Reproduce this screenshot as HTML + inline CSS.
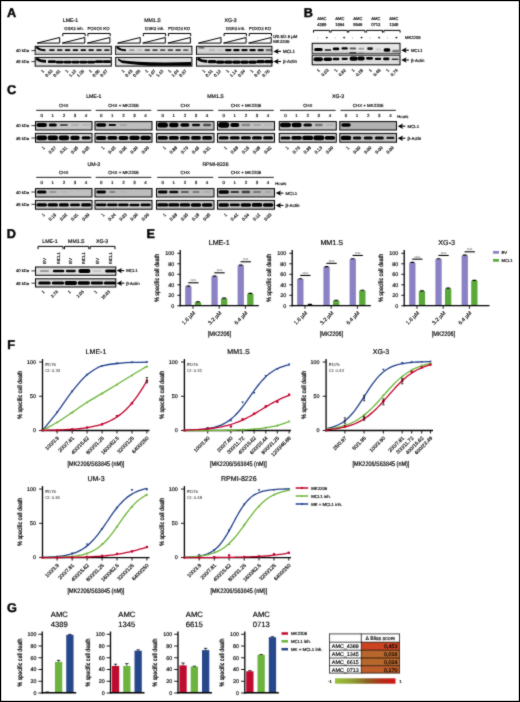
<!DOCTYPE html>
<html><head><meta charset="utf-8"><title>Figure</title>
<style>
html,body{margin:0;padding:0;background:#fff}
body{width:520px;height:702px;overflow:hidden}
svg{display:block;font-family:"Liberation Sans",sans-serif}
text{stroke:#000;stroke-width:.16px;text-rendering:geometricPrecision}
</style></head><body>
<svg width="520" height="702" viewBox="0 0 520 702">
<defs>
<filter id="bl" x="-20%" y="-60%" width="140%" height="220%"><feGaussianBlur stdDeviation="0.45"/></filter>
<linearGradient id="shade" x1="0" x2="0" y1="0" y2="1"><stop offset="0" stop-color="#dcdcdc"/><stop offset="1" stop-color="#9c9c9c"/></linearGradient>
<linearGradient id="shadeB" x1="0" x2="0" y1="0" y2="1"><stop offset="0" stop-color="#e6e6e6"/><stop offset="1" stop-color="#bcbcbc"/></linearGradient>
<linearGradient id="gr" x1="0" x2="1" y1="0" y2="0"><stop offset="0" stop-color="#9cc43c"/><stop offset="0.3" stop-color="#8e9a32"/><stop offset="0.55" stop-color="#8c5a20"/><stop offset="0.78" stop-color="#b42c18"/><stop offset="1" stop-color="#d61414"/></linearGradient>
<filter id="soft" x="0" y="0" width="520" height="702" filterUnits="userSpaceOnUse" color-interpolation-filters="sRGB"><feConvolveMatrix order="3" kernelMatrix="1 3 1 3 20 3 1 3 1" divisor="36" edgeMode="duplicate" preserveAlpha="false"/></filter>
</defs>
<rect x="0" y="0" width="520" height="702" fill="#fff"/>
<g filter="url(#soft)">
<text x="6.90" y="17.10" font-size="12.7" font-weight="bold" style="stroke-width:0.42px">A</text>
<text x="303.80" y="17.10" font-size="12.7" font-weight="bold" style="stroke-width:0.42px">B</text>
<text x="6.90" y="94.20" font-size="12.7" font-weight="bold" style="stroke-width:0.42px">C</text>
<text x="6.80" y="237.90" font-size="12.7" font-weight="bold" style="stroke-width:0.42px">D</text>
<text x="146.40" y="237.90" font-size="12.7" font-weight="bold" style="stroke-width:0.42px">E</text>
<text x="7.30" y="349.00" font-size="12.7" font-weight="bold" style="stroke-width:0.42px">F</text>
<text x="7.00" y="612.00" font-size="12.7" font-weight="bold" style="stroke-width:0.42px">G</text>
<rect x="35.20" y="46.30" width="76.10" height="8.20" fill="#dcdcdc" stroke="#000" stroke-width="1.0"/>
<rect x="35.70" y="51.6" width="75.10" height="2.9" fill="url(#shade)"/>
<rect x="35.20" y="57.40" width="76.10" height="8.70" fill="#dedede" stroke="#000" stroke-width="1.0"/>
<path d="M36.30,47.2 Q40.00,50.2 45.40,50.2" fill="none" stroke="#000" stroke-width="1.9" opacity="1" filter="url(#bl)"/>
<rect x="49.10" y="49.15" width="5.60" height="1.90" rx="0.95" fill="#000" opacity="0.95" filter="url(#bl)"/>
<rect x="56.95" y="49.15" width="5.60" height="1.90" rx="0.95" fill="#000" opacity="0.90" filter="url(#bl)"/>
<rect x="64.80" y="49.15" width="5.60" height="1.90" rx="0.95" fill="#000" opacity="1.00" filter="url(#bl)"/>
<rect x="72.65" y="49.15" width="5.60" height="1.90" rx="0.95" fill="#000" opacity="1.00" filter="url(#bl)"/>
<rect x="80.50" y="49.15" width="5.60" height="1.90" rx="0.95" fill="#000" opacity="1.00" filter="url(#bl)"/>
<rect x="88.35" y="49.15" width="5.60" height="1.90" rx="0.95" fill="#000" opacity="0.95" filter="url(#bl)"/>
<rect x="96.20" y="49.15" width="5.60" height="1.90" rx="0.95" fill="#000" opacity="0.90" filter="url(#bl)"/>
<rect x="104.05" y="49.15" width="5.60" height="1.90" rx="0.95" fill="#000" opacity="0.85" filter="url(#bl)"/>
<path d="M36.30,58.4 Q40.00,61.3 46.00,61.4" fill="none" stroke="#000" stroke-width="2.6" opacity="1" filter="url(#bl)"/>
<rect x="47.80" y="60.35" width="8.20" height="2.70" rx="1.35" fill="#000" opacity="1.00" filter="url(#bl)"/>
<rect x="55.65" y="60.75" width="8.20" height="2.70" rx="1.35" fill="#000" opacity="1.00" filter="url(#bl)"/>
<rect x="63.50" y="60.75" width="8.20" height="2.70" rx="1.35" fill="#000" opacity="1.00" filter="url(#bl)"/>
<rect x="71.35" y="60.75" width="8.20" height="2.70" rx="1.35" fill="#000" opacity="1.00" filter="url(#bl)"/>
<rect x="79.20" y="60.75" width="8.20" height="2.70" rx="1.35" fill="#000" opacity="1.00" filter="url(#bl)"/>
<rect x="87.05" y="60.75" width="8.20" height="2.70" rx="1.35" fill="#000" opacity="1.00" filter="url(#bl)"/>
<rect x="94.90" y="60.35" width="8.20" height="2.70" rx="1.35" fill="#000" opacity="1.00" filter="url(#bl)"/>
<rect x="102.75" y="60.35" width="8.20" height="2.70" rx="1.35" fill="#000" opacity="1.00" filter="url(#bl)"/>
<path d="M37.10,43.1 L59.70,37.5 V43.1 Z" fill="none" stroke="#000" stroke-width="1.0" stroke-linejoin="miter"/>
<path d="M62.20,43.1 L84.80,37.5 V43.1 Z" fill="none" stroke="#000" stroke-width="1.0" stroke-linejoin="miter"/>
<path d="M87.30,43.1 L109.90,37.5 V43.1 Z" fill="none" stroke="#000" stroke-width="1.0" stroke-linejoin="miter"/>
<path d="M62.80,36.20 V33.50 H85.10 V36.20" fill="none" stroke="#000" stroke-width="1.0"/>
<path d="M87.90,36.20 V33.50 H110.20 V36.20" fill="none" stroke="#000" stroke-width="1.0"/>
<text x="70.50" y="21.77" font-size="5.2" text-anchor="middle">LME-1</text>
<text x="74.00" y="29.55" font-size="4.3" text-anchor="middle">GSK3 inh.</text>
<text x="98.60" y="29.55" font-size="4.3" text-anchor="middle">FOXO1 KO</text>
<rect x="115.70" y="46.30" width="76.20" height="8.20" fill="#dcdcdc" stroke="#000" stroke-width="1.0"/>
<rect x="116.20" y="51.6" width="75.20" height="2.9" fill="url(#shade)"/>
<rect x="115.70" y="57.40" width="76.20" height="8.70" fill="#dedede" stroke="#000" stroke-width="1.0"/>
<path d="M116.80,47.2 Q120.50,50.2 125.90,50.2" fill="none" stroke="#000" stroke-width="1.9" opacity="1" filter="url(#bl)"/>
<rect x="129.10" y="49.15" width="5.60" height="1.90" rx="0.95" fill="#000" opacity="0.35" filter="url(#bl)"/>
<rect x="136.80" y="49.15" width="5.60" height="1.90" rx="0.95" fill="#000" opacity="0.15" filter="url(#bl)"/>
<rect x="144.50" y="49.15" width="5.60" height="1.90" rx="0.95" fill="#000" opacity="0.70" filter="url(#bl)"/>
<rect x="152.20" y="49.15" width="5.60" height="1.90" rx="0.95" fill="#000" opacity="0.70" filter="url(#bl)"/>
<rect x="159.90" y="49.15" width="5.60" height="1.90" rx="0.95" fill="#000" opacity="0.65" filter="url(#bl)"/>
<rect x="167.60" y="49.15" width="5.60" height="1.90" rx="0.95" fill="#000" opacity="0.70" filter="url(#bl)"/>
<rect x="175.30" y="49.15" width="5.60" height="1.90" rx="0.95" fill="#000" opacity="0.75" filter="url(#bl)"/>
<rect x="183.00" y="49.15" width="5.60" height="1.90" rx="0.95" fill="#000" opacity="0.60" filter="url(#bl)"/>
<polygon points="118.00,58.30 121.50,60.20 128.00,61.00 138.00,61.70 150.00,62.30 165.00,62.50 191.20,61.90 191.20,65.70 150.00,65.70 140.00,64.90 130.00,63.90 122.00,62.90 118.00,60.20" fill="#000" filter="url(#bl)"/>
<path d="M117.60,43.1 L140.20,37.5 V43.1 Z" fill="none" stroke="#000" stroke-width="1.0" stroke-linejoin="miter"/>
<path d="M142.70,43.1 L165.30,37.5 V43.1 Z" fill="none" stroke="#000" stroke-width="1.0" stroke-linejoin="miter"/>
<path d="M167.80,43.1 L190.40,37.5 V43.1 Z" fill="none" stroke="#000" stroke-width="1.0" stroke-linejoin="miter"/>
<path d="M143.30,36.20 V33.50 H165.60 V36.20" fill="none" stroke="#000" stroke-width="1.0"/>
<path d="M168.40,36.20 V33.50 H190.70 V36.20" fill="none" stroke="#000" stroke-width="1.0"/>
<text x="152.40" y="21.77" font-size="5.2" text-anchor="middle">MM1.S</text>
<text x="154.60" y="29.55" font-size="4.3" text-anchor="middle">GSK3 inh.</text>
<text x="179.20" y="29.55" font-size="4.3" text-anchor="middle">FOXO3 KO</text>
<rect x="196.50" y="46.30" width="75.40" height="8.20" fill="#d6d6d6" stroke="#000" stroke-width="1.0"/>
<rect x="197.00" y="51.6" width="74.40" height="2.9" fill="url(#shade)"/>
<rect x="196.50" y="57.40" width="75.40" height="8.70" fill="#dedede" stroke="#000" stroke-width="1.0"/>
<rect x="198.50" y="47.25" width="6.00" height="1.30" rx="0.65" fill="#000" opacity="0.60" filter="url(#bl)"/>
<rect x="208.90" y="48.90" width="6.40" height="2.40" rx="1.20" fill="#000" opacity="0.15" filter="url(#bl)"/>
<rect x="217.00" y="48.90" width="6.40" height="2.40" rx="1.20" fill="#000" opacity="0.08" filter="url(#bl)"/>
<rect x="225.10" y="48.90" width="6.40" height="2.40" rx="1.20" fill="#000" opacity="1.00" filter="url(#bl)"/>
<rect x="233.20" y="48.90" width="6.40" height="2.40" rx="1.20" fill="#000" opacity="1.00" filter="url(#bl)"/>
<rect x="241.30" y="48.90" width="6.40" height="2.40" rx="1.20" fill="#000" opacity="0.95" filter="url(#bl)"/>
<rect x="249.40" y="48.90" width="6.40" height="2.40" rx="1.20" fill="#000" opacity="1.00" filter="url(#bl)"/>
<rect x="257.50" y="48.90" width="6.40" height="2.40" rx="1.20" fill="#000" opacity="0.90" filter="url(#bl)"/>
<rect x="265.60" y="48.90" width="6.40" height="2.40" rx="1.20" fill="#000" opacity="0.50" filter="url(#bl)"/>
<path d="M197.60,58.4 Q201.30,61.3 207.30,61.4" fill="none" stroke="#000" stroke-width="2.6" opacity="1" filter="url(#bl)"/>
<rect x="207.80" y="60.05" width="8.60" height="3.30" rx="1.65" fill="#000" opacity="1.00" filter="url(#bl)"/>
<rect x="215.90" y="60.45" width="8.60" height="3.30" rx="1.65" fill="#000" opacity="1.00" filter="url(#bl)"/>
<rect x="224.00" y="60.45" width="8.60" height="3.30" rx="1.65" fill="#000" opacity="1.00" filter="url(#bl)"/>
<rect x="232.10" y="60.45" width="8.60" height="3.30" rx="1.65" fill="#000" opacity="1.00" filter="url(#bl)"/>
<rect x="240.20" y="60.45" width="8.60" height="3.30" rx="1.65" fill="#000" opacity="1.00" filter="url(#bl)"/>
<rect x="248.30" y="60.45" width="8.60" height="3.30" rx="1.65" fill="#000" opacity="1.00" filter="url(#bl)"/>
<rect x="256.40" y="60.05" width="8.60" height="3.30" rx="1.65" fill="#000" opacity="1.00" filter="url(#bl)"/>
<rect x="264.50" y="60.05" width="8.60" height="3.30" rx="1.65" fill="#000" opacity="1.00" filter="url(#bl)"/>
<path d="M198.40,43.1 L221.00,37.5 V43.1 Z" fill="none" stroke="#000" stroke-width="1.0" stroke-linejoin="miter"/>
<path d="M223.50,43.1 L246.10,37.5 V43.1 Z" fill="none" stroke="#000" stroke-width="1.0" stroke-linejoin="miter"/>
<path d="M248.60,43.1 L271.20,37.5 V43.1 Z" fill="none" stroke="#000" stroke-width="1.0" stroke-linejoin="miter"/>
<path d="M224.10,36.20 V33.50 H246.40 V36.20" fill="none" stroke="#000" stroke-width="1.0"/>
<path d="M249.20,36.20 V33.50 H271.50 V36.20" fill="none" stroke="#000" stroke-width="1.0"/>
<text x="230.60" y="21.77" font-size="5.2" text-anchor="middle">XG-3</text>
<text x="235.50" y="29.55" font-size="4.3" text-anchor="middle">GSK3 inh.</text>
<text x="260.00" y="29.55" font-size="4.3" text-anchor="middle">FOXO3 KO</text>
<text x="29.20" y="52.11" font-size="4.2" text-anchor="end">40 kDa</text>
<line x1="31.40" y1="50.60" x2="35.00" y2="50.60" stroke="#000" stroke-width="0.8"/>
<text x="29.20" y="63.11" font-size="4.2" text-anchor="end">45 kDa</text>
<line x1="31.40" y1="61.60" x2="35.00" y2="61.60" stroke="#000" stroke-width="0.8"/>
<text x="273.20" y="38.27" font-size="4.35">0/0.5/2.5 µM</text>
<text x="273.20" y="43.37" font-size="4.35">MK2206</text>
<line x1="276.70" y1="51.40" x2="281.00" y2="51.40" stroke="#000" stroke-width="1.1"/>
<polygon points="273.40,51.40 278.70,48.70 277.50,51.40 278.70,54.10" fill="#000"/>
<text x="283.00" y="53.02" font-size="4.5">MCL1</text>
<line x1="276.70" y1="61.50" x2="281.00" y2="61.50" stroke="#000" stroke-width="1.1"/>
<polygon points="273.40,61.50 278.70,58.80 277.50,61.50 278.70,64.20" fill="#000"/>
<text x="283.00" y="63.12" font-size="4.5">β-Actin</text>
<text x="44.40" y="71.40" font-size="4.2" text-anchor="end" transform="rotate(-45 44.40 71.40)">1</text>
<text x="52.90" y="71.40" font-size="4.2" text-anchor="end" transform="rotate(-45 52.90 71.40)">0.83</text>
<text x="60.75" y="71.40" font-size="4.2" text-anchor="end" transform="rotate(-45 60.75 71.40)">0.81</text>
<text x="68.60" y="71.40" font-size="4.2" text-anchor="end" transform="rotate(-45 68.60 71.40)">1</text>
<text x="76.45" y="71.40" font-size="4.2" text-anchor="end" transform="rotate(-45 76.45 71.40)">1.13</text>
<text x="84.30" y="71.40" font-size="4.2" text-anchor="end" transform="rotate(-45 84.30 71.40)">1.26</text>
<text x="92.15" y="71.40" font-size="4.2" text-anchor="end" transform="rotate(-45 92.15 71.40)">1</text>
<text x="100.00" y="71.40" font-size="4.2" text-anchor="end" transform="rotate(-45 100.00 71.40)">0.96</text>
<text x="107.85" y="71.40" font-size="4.2" text-anchor="end" transform="rotate(-45 107.85 71.40)">0.97</text>
<text x="124.90" y="71.40" font-size="4.2" text-anchor="end" transform="rotate(-45 124.90 71.40)">1</text>
<text x="132.90" y="71.40" font-size="4.2" text-anchor="end" transform="rotate(-45 132.90 71.40)">0.49</text>
<text x="140.60" y="71.40" font-size="4.2" text-anchor="end" transform="rotate(-45 140.60 71.40)">0.08</text>
<text x="148.30" y="71.40" font-size="4.2" text-anchor="end" transform="rotate(-45 148.30 71.40)">1</text>
<text x="156.00" y="71.40" font-size="4.2" text-anchor="end" transform="rotate(-45 156.00 71.40)">1.07</text>
<text x="163.70" y="71.40" font-size="4.2" text-anchor="end" transform="rotate(-45 163.70 71.40)">1.13</text>
<text x="171.40" y="71.40" font-size="4.2" text-anchor="end" transform="rotate(-45 171.40 71.40)">1</text>
<text x="179.10" y="71.40" font-size="4.2" text-anchor="end" transform="rotate(-45 179.10 71.40)">1.04</text>
<text x="186.80" y="71.40" font-size="4.2" text-anchor="end" transform="rotate(-45 186.80 71.40)">0.87</text>
<text x="205.70" y="71.40" font-size="4.2" text-anchor="end" transform="rotate(-45 205.70 71.40)">1</text>
<text x="213.10" y="71.40" font-size="4.2" text-anchor="end" transform="rotate(-45 213.10 71.40)">0.31</text>
<text x="221.20" y="71.40" font-size="4.2" text-anchor="end" transform="rotate(-45 221.20 71.40)">0.12</text>
<text x="229.30" y="71.40" font-size="4.2" text-anchor="end" transform="rotate(-45 229.30 71.40)">1</text>
<text x="237.40" y="71.40" font-size="4.2" text-anchor="end" transform="rotate(-45 237.40 71.40)">1.14</text>
<text x="245.50" y="71.40" font-size="4.2" text-anchor="end" transform="rotate(-45 245.50 71.40)">0.94</text>
<text x="253.60" y="71.40" font-size="4.2" text-anchor="end" transform="rotate(-45 253.60 71.40)">1</text>
<text x="261.70" y="71.40" font-size="4.2" text-anchor="end" transform="rotate(-45 261.70 71.40)">0.97</text>
<text x="269.80" y="71.40" font-size="4.2" text-anchor="end" transform="rotate(-45 269.80 71.40)">0.76</text>
<rect x="312.20" y="43.30" width="87.80" height="10.20" fill="#e6e6e6" stroke="#000" stroke-width="1.0"/>
<rect x="312.70" y="50.5" width="86.80" height="3" fill="url(#shadeB)"/>
<rect x="312.20" y="55.10" width="87.80" height="9.70" fill="#dcdcdc" stroke="#000" stroke-width="1.0"/>
<rect x="314.12" y="48.01" width="8.59" height="3.00" rx="1.50" fill="#000" opacity="1.00" filter="url(#bl)"/>
<rect x="324.54" y="49.05" width="6.76" height="2.00" rx="1.00" fill="#000" opacity="0.70" filter="url(#bl)"/>
<rect x="332.77" y="47.56" width="6.58" height="2.80" rx="1.40" fill="#000" opacity="1.00" filter="url(#bl)"/>
<rect x="341.54" y="47.21" width="6.22" height="2.40" rx="1.20" fill="#000" opacity="1.00" filter="url(#bl)"/>
<rect x="349.59" y="47.41" width="6.58" height="2.00" rx="1.00" fill="#000" opacity="0.60" filter="url(#bl)"/>
<rect x="358.36" y="47.78" width="5.85" height="2.00" rx="1.00" fill="#000" opacity="0.30" filter="url(#bl)"/>
<rect x="367.14" y="47.29" width="5.85" height="2.60" rx="1.30" fill="#000" opacity="0.85" filter="url(#bl)"/>
<rect x="375.18" y="48.51" width="6.03" height="2.00" rx="1.00" fill="#000" opacity="0.12" filter="url(#bl)"/>
<rect x="383.59" y="48.35" width="6.76" height="3.40" rx="1.70" fill="#000" opacity="1.00" filter="url(#bl)"/>
<rect x="392.18" y="49.67" width="7.31" height="2.60" rx="1.30" fill="#000" opacity="0.45" filter="url(#bl)"/>
<rect x="349.38" y="52.25" width="7.00" height="1.30" rx="0.65" fill="#000" opacity="0.85" filter="url(#bl)"/>
<rect x="358.79" y="52.40" width="5.00" height="1.00" rx="0.50" fill="#000" opacity="0.30" filter="url(#bl)"/>
<rect x="313.57" y="57.20" width="9.32" height="4.00" rx="2.00" fill="#000" opacity="1.00" filter="url(#bl)"/>
<rect x="323.63" y="57.40" width="8.41" height="3.60" rx="1.80" fill="#000" opacity="1.00" filter="url(#bl)"/>
<rect x="332.77" y="57.81" width="6.58" height="2.40" rx="1.20" fill="#000" opacity="1.00" filter="url(#bl)"/>
<rect x="341.54" y="57.73" width="6.22" height="2.20" rx="1.10" fill="#000" opacity="1.00" filter="url(#bl)"/>
<rect x="349.59" y="56.55" width="8.04" height="4.20" rx="2.10" fill="#000" opacity="1.00" filter="url(#bl)"/>
<rect x="357.26" y="56.46" width="7.50" height="4.00" rx="2.00" fill="#000" opacity="1.00" filter="url(#bl)"/>
<rect x="366.04" y="56.88" width="6.95" height="2.80" rx="1.40" fill="#000" opacity="1.00" filter="url(#bl)"/>
<rect x="374.81" y="57.63" width="6.40" height="2.40" rx="1.20" fill="#000" opacity="1.00" filter="url(#bl)"/>
<rect x="383.04" y="57.53" width="6.40" height="2.60" rx="1.30" fill="#000" opacity="1.00" filter="url(#bl)"/>
<rect x="391.63" y="58.40" width="6.95" height="1.60" rx="0.80" fill="#000" opacity="0.80" filter="url(#bl)"/>
<text x="321.80" y="20.31" font-size="4.2" text-anchor="middle">AMC</text>
<text x="321.80" y="25.51" font-size="4.2" text-anchor="middle">4389</text>
<path d="M313.50,32.60 V30.40 H329.70 V32.60" fill="none" stroke="#000" stroke-width="1.0"/>
<text x="317.80" y="39.17" font-size="3.8" text-anchor="middle" fill="#444" style="stroke-width:0.01px">-</text>
<text x="326.80" y="39.17" font-size="3.8" text-anchor="middle">+</text>
<text x="339.80" y="20.31" font-size="4.2" text-anchor="middle">AMC</text>
<text x="339.80" y="25.51" font-size="4.2" text-anchor="middle">1864</text>
<path d="M331.10,32.60 V30.40 H347.30 V32.60" fill="none" stroke="#000" stroke-width="1.0"/>
<text x="335.20" y="39.17" font-size="3.8" text-anchor="middle" fill="#444" style="stroke-width:0.01px">-</text>
<text x="344.20" y="39.17" font-size="3.8" text-anchor="middle">+</text>
<text x="357.80" y="20.31" font-size="4.2" text-anchor="middle">AMC</text>
<text x="357.80" y="25.51" font-size="4.2" text-anchor="middle">9946</text>
<path d="M348.70,32.60 V30.40 H364.90 V32.60" fill="none" stroke="#000" stroke-width="1.0"/>
<text x="352.60" y="39.17" font-size="3.8" text-anchor="middle" fill="#444" style="stroke-width:0.01px">-</text>
<text x="361.60" y="39.17" font-size="3.8" text-anchor="middle">+</text>
<text x="375.80" y="20.31" font-size="4.2" text-anchor="middle">AMC</text>
<text x="375.80" y="25.51" font-size="4.2" text-anchor="middle">0713</text>
<path d="M366.30,32.60 V30.40 H382.50 V32.60" fill="none" stroke="#000" stroke-width="1.0"/>
<text x="370.00" y="39.17" font-size="3.8" text-anchor="middle" fill="#444" style="stroke-width:0.01px">-</text>
<text x="379.00" y="39.17" font-size="3.8" text-anchor="middle">+</text>
<text x="393.80" y="20.31" font-size="4.2" text-anchor="middle">AMC</text>
<text x="393.80" y="25.51" font-size="4.2" text-anchor="middle">1345</text>
<path d="M383.90,32.60 V30.40 H400.10 V32.60" fill="none" stroke="#000" stroke-width="1.0"/>
<text x="387.40" y="39.17" font-size="3.8" text-anchor="middle" fill="#444" style="stroke-width:0.01px">-</text>
<text x="396.40" y="39.17" font-size="3.8" text-anchor="middle">+</text>
<text x="405.00" y="39.11" font-size="4.2">MK2206</text>
<line x1="404.60" y1="50.20" x2="408.90" y2="50.20" stroke="#000" stroke-width="1.1"/>
<polygon points="401.30,50.20 406.60,47.50 405.40,50.20 406.60,52.90" fill="#000"/>
<text x="411.00" y="51.75" font-size="4.3">MCL1</text>
<line x1="404.60" y1="60.00" x2="408.90" y2="60.00" stroke="#000" stroke-width="1.1"/>
<polygon points="401.30,60.00 406.60,57.30 405.40,60.00 406.60,62.70" fill="#000"/>
<text x="411.00" y="61.55" font-size="4.3">β-Actin</text>
<text x="320.30" y="70.60" font-size="4.3" text-anchor="end" transform="rotate(-45 320.30 70.60)">1</text>
<text x="328.95" y="70.60" font-size="4.3" text-anchor="end" transform="rotate(-45 328.95 70.60)">0.63</text>
<text x="337.60" y="70.60" font-size="4.3" text-anchor="end" transform="rotate(-45 337.60 70.60)">1</text>
<text x="346.25" y="70.60" font-size="4.3" text-anchor="end" transform="rotate(-45 346.25 70.60)">0.82</text>
<text x="354.90" y="70.60" font-size="4.3" text-anchor="end" transform="rotate(-45 354.90 70.60)">1</text>
<text x="363.55" y="70.60" font-size="4.3" text-anchor="end" transform="rotate(-45 363.55 70.60)">0.58</text>
<text x="372.20" y="70.60" font-size="4.3" text-anchor="end" transform="rotate(-45 372.20 70.60)">1</text>
<text x="380.85" y="70.60" font-size="4.3" text-anchor="end" transform="rotate(-45 380.85 70.60)">0.48</text>
<text x="389.50" y="70.60" font-size="4.3" text-anchor="end" transform="rotate(-45 389.50 70.60)">1</text>
<text x="398.15" y="70.60" font-size="4.3" text-anchor="end" transform="rotate(-45 398.15 70.60)">0.74</text>
<rect x="35.50" y="121.60" width="56.50" height="8.40" fill="#c6c6c6" stroke="#000" stroke-width="1.0"/>
<rect x="35.50" y="133.40" width="56.50" height="8.80" fill="#cecece" stroke="#000" stroke-width="1.0"/>
<rect x="36.45" y="122.90" width="10.50" height="4.20" rx="2.10" fill="#000" opacity="1.00" filter="url(#bl)"/>
<rect x="36.30" y="135.60" width="10.80" height="4.60" rx="2.30" fill="#000" opacity="1.00" filter="url(#bl)"/>
<rect x="48.80" y="123.50" width="8.00" height="3.00" rx="1.50" fill="#000" opacity="1.00" filter="url(#bl)"/>
<rect x="47.55" y="135.60" width="10.50" height="4.60" rx="2.30" fill="#000" opacity="1.00" filter="url(#bl)"/>
<rect x="59.90" y="123.90" width="8.00" height="2.20" rx="1.10" fill="#000" opacity="0.60" filter="url(#bl)"/>
<rect x="58.65" y="135.50" width="10.50" height="4.80" rx="2.40" fill="#000" opacity="1.00" filter="url(#bl)"/>
<rect x="71.00" y="124.00" width="8.00" height="2.00" rx="1.00" fill="#000" opacity="0.12" filter="url(#bl)"/>
<rect x="70.25" y="135.80" width="9.50" height="4.20" rx="2.10" fill="#000" opacity="1.00" filter="url(#bl)"/>
<rect x="82.10" y="124.00" width="8.00" height="2.00" rx="1.00" fill="#000" opacity="0.08" filter="url(#bl)"/>
<rect x="81.60" y="136.20" width="9.00" height="3.40" rx="1.70" fill="#000" opacity="1.00" filter="url(#bl)"/>
<line x1="36.20" y1="110.35" x2="91.30" y2="110.35" stroke="#000" stroke-width="0.9"/>
<text x="63.75" y="106.58" font-size="4.4" text-anchor="middle">CHX</text>
<text x="41.70" y="117.08" font-size="4.4" text-anchor="middle">0</text>
<text x="52.80" y="117.08" font-size="4.4" text-anchor="middle">1</text>
<text x="63.90" y="117.08" font-size="4.4" text-anchor="middle">2</text>
<text x="75.00" y="117.08" font-size="4.4" text-anchor="middle">3</text>
<text x="86.10" y="117.08" font-size="4.4" text-anchor="middle">4</text>
<text x="45.30" y="148.00" font-size="4.4" text-anchor="end" transform="rotate(-45 45.30 148.00)">1</text>
<text x="56.40" y="148.00" font-size="4.4" text-anchor="end" transform="rotate(-45 56.40 148.00)">0.57</text>
<text x="67.50" y="148.00" font-size="4.4" text-anchor="end" transform="rotate(-45 67.50 148.00)">0.31</text>
<text x="78.60" y="148.00" font-size="4.4" text-anchor="end" transform="rotate(-45 78.60 148.00)">0.05</text>
<text x="89.70" y="148.00" font-size="4.4" text-anchor="end" transform="rotate(-45 89.70 148.00)">0.05</text>
<rect x="95.00" y="121.60" width="57.00" height="8.40" fill="#bebebe" stroke="#000" stroke-width="1.0"/>
<rect x="95.00" y="133.40" width="57.00" height="8.80" fill="#c8c8c8" stroke="#000" stroke-width="1.0"/>
<rect x="96.20" y="123.20" width="10.00" height="3.60" rx="1.80" fill="#000" opacity="1.00" filter="url(#bl)"/>
<rect x="95.95" y="135.90" width="10.50" height="4.00" rx="2.00" fill="#000" opacity="1.00" filter="url(#bl)"/>
<rect x="108.55" y="123.90" width="7.50" height="2.20" rx="1.10" fill="#000" opacity="0.95" filter="url(#bl)"/>
<rect x="107.30" y="136.00" width="10.00" height="3.80" rx="1.90" fill="#000" opacity="1.00" filter="url(#bl)"/>
<rect x="119.90" y="124.10" width="7.00" height="1.80" rx="0.90" fill="#000" opacity="0.15" filter="url(#bl)"/>
<rect x="118.40" y="135.90" width="10.00" height="4.00" rx="2.00" fill="#000" opacity="1.00" filter="url(#bl)"/>
<rect x="129.25" y="135.80" width="10.50" height="4.20" rx="2.10" fill="#000" opacity="1.00" filter="url(#bl)"/>
<rect x="140.35" y="135.70" width="10.50" height="4.40" rx="2.20" fill="#000" opacity="1.00" filter="url(#bl)"/>
<line x1="95.70" y1="110.35" x2="151.30" y2="110.35" stroke="#000" stroke-width="0.9"/>
<text x="123.50" y="106.58" font-size="4.4" text-anchor="middle">CHX + MK2206</text>
<text x="101.20" y="117.08" font-size="4.4" text-anchor="middle">0</text>
<text x="112.30" y="117.08" font-size="4.4" text-anchor="middle">1</text>
<text x="123.40" y="117.08" font-size="4.4" text-anchor="middle">2</text>
<text x="134.50" y="117.08" font-size="4.4" text-anchor="middle">3</text>
<text x="145.60" y="117.08" font-size="4.4" text-anchor="middle">4</text>
<text x="104.80" y="148.00" font-size="4.4" text-anchor="end" transform="rotate(-45 104.80 148.00)">1</text>
<text x="115.90" y="148.00" font-size="4.4" text-anchor="end" transform="rotate(-45 115.90 148.00)">0.45</text>
<text x="127.00" y="148.00" font-size="4.4" text-anchor="end" transform="rotate(-45 127.00 148.00)">0.06</text>
<text x="138.10" y="148.00" font-size="4.4" text-anchor="end" transform="rotate(-45 138.10 148.00)">0.00</text>
<text x="149.20" y="148.00" font-size="4.4" text-anchor="end" transform="rotate(-45 149.20 148.00)">0.00</text>
<rect x="156.50" y="121.60" width="57.50" height="8.40" fill="#bcbcbc" stroke="#000" stroke-width="1.0"/>
<rect x="156.50" y="133.40" width="57.50" height="8.80" fill="#c6c6c6" stroke="#000" stroke-width="1.0"/>
<rect x="157.45" y="122.50" width="10.50" height="5.00" rx="2.50" fill="#000" opacity="1.00" filter="url(#bl)"/>
<rect x="157.45" y="136.00" width="10.50" height="3.80" rx="1.90" fill="#000" opacity="1.00" filter="url(#bl)"/>
<rect x="169.05" y="122.80" width="9.50" height="4.40" rx="2.20" fill="#000" opacity="1.00" filter="url(#bl)"/>
<rect x="168.80" y="136.00" width="10.00" height="3.80" rx="1.90" fill="#000" opacity="1.00" filter="url(#bl)"/>
<rect x="180.40" y="123.20" width="9.00" height="3.60" rx="1.80" fill="#000" opacity="1.00" filter="url(#bl)"/>
<rect x="179.90" y="136.00" width="10.00" height="3.80" rx="1.90" fill="#000" opacity="1.00" filter="url(#bl)"/>
<rect x="192.00" y="123.70" width="8.00" height="2.60" rx="1.30" fill="#000" opacity="0.95" filter="url(#bl)"/>
<rect x="191.00" y="136.10" width="10.00" height="3.60" rx="1.80" fill="#000" opacity="1.00" filter="url(#bl)"/>
<rect x="203.10" y="123.80" width="8.00" height="2.40" rx="1.20" fill="#000" opacity="0.60" filter="url(#bl)"/>
<rect x="202.10" y="136.00" width="10.00" height="3.80" rx="1.90" fill="#000" opacity="1.00" filter="url(#bl)"/>
<line x1="157.20" y1="110.35" x2="213.30" y2="110.35" stroke="#000" stroke-width="0.9"/>
<text x="185.25" y="106.58" font-size="4.4" text-anchor="middle">CHX</text>
<text x="162.70" y="117.08" font-size="4.4" text-anchor="middle">0</text>
<text x="173.80" y="117.08" font-size="4.4" text-anchor="middle">1</text>
<text x="184.90" y="117.08" font-size="4.4" text-anchor="middle">2</text>
<text x="196.00" y="117.08" font-size="4.4" text-anchor="middle">3</text>
<text x="207.10" y="117.08" font-size="4.4" text-anchor="middle">4</text>
<text x="166.30" y="148.00" font-size="4.4" text-anchor="end" transform="rotate(-45 166.30 148.00)">1</text>
<text x="177.40" y="148.00" font-size="4.4" text-anchor="end" transform="rotate(-45 177.40 148.00)">0.88</text>
<text x="188.50" y="148.00" font-size="4.4" text-anchor="end" transform="rotate(-45 188.50 148.00)">0.70</text>
<text x="199.60" y="148.00" font-size="4.4" text-anchor="end" transform="rotate(-45 199.60 148.00)">0.46</text>
<text x="210.70" y="148.00" font-size="4.4" text-anchor="end" transform="rotate(-45 210.70 148.00)">0.31</text>
<rect x="217.50" y="121.60" width="57.00" height="8.40" fill="#c2c2c2" stroke="#000" stroke-width="1.0"/>
<rect x="217.50" y="133.40" width="57.00" height="8.80" fill="#cccccc" stroke="#000" stroke-width="1.0"/>
<rect x="218.20" y="122.20" width="11.00" height="5.60" rx="2.80" fill="#000" opacity="1.00" filter="url(#bl)"/>
<rect x="218.70" y="136.20" width="10.00" height="3.40" rx="1.70" fill="#000" opacity="1.00" filter="url(#bl)"/>
<rect x="230.30" y="123.00" width="9.00" height="4.00" rx="2.00" fill="#000" opacity="1.00" filter="url(#bl)"/>
<rect x="229.80" y="136.20" width="10.00" height="3.40" rx="1.70" fill="#000" opacity="1.00" filter="url(#bl)"/>
<rect x="241.40" y="123.80" width="9.00" height="2.40" rx="1.20" fill="#000" opacity="0.30" filter="url(#bl)"/>
<rect x="240.90" y="136.30" width="10.00" height="3.20" rx="1.60" fill="#000" opacity="1.00" filter="url(#bl)"/>
<rect x="253.00" y="123.90" width="8.00" height="2.20" rx="1.10" fill="#000" opacity="0.15" filter="url(#bl)"/>
<rect x="252.00" y="136.20" width="10.00" height="3.40" rx="1.70" fill="#000" opacity="1.00" filter="url(#bl)"/>
<rect x="264.10" y="124.00" width="8.00" height="2.00" rx="1.00" fill="#000" opacity="0.05" filter="url(#bl)"/>
<rect x="263.10" y="136.30" width="10.00" height="3.20" rx="1.60" fill="#000" opacity="1.00" filter="url(#bl)"/>
<line x1="218.20" y1="110.35" x2="273.80" y2="110.35" stroke="#000" stroke-width="0.9"/>
<text x="246.00" y="106.58" font-size="4.4" text-anchor="middle">CHX + MK2206</text>
<text x="223.70" y="117.08" font-size="4.4" text-anchor="middle">0</text>
<text x="234.80" y="117.08" font-size="4.4" text-anchor="middle">1</text>
<text x="245.90" y="117.08" font-size="4.4" text-anchor="middle">2</text>
<text x="257.00" y="117.08" font-size="4.4" text-anchor="middle">3</text>
<text x="268.10" y="117.08" font-size="4.4" text-anchor="middle">4</text>
<text x="227.30" y="148.00" font-size="4.4" text-anchor="end" transform="rotate(-45 227.30 148.00)">1</text>
<text x="238.40" y="148.00" font-size="4.4" text-anchor="end" transform="rotate(-45 238.40 148.00)">0.68</text>
<text x="249.50" y="148.00" font-size="4.4" text-anchor="end" transform="rotate(-45 249.50 148.00)">0.16</text>
<text x="260.60" y="148.00" font-size="4.4" text-anchor="end" transform="rotate(-45 260.60 148.00)">0.08</text>
<text x="271.70" y="148.00" font-size="4.4" text-anchor="end" transform="rotate(-45 271.70 148.00)">0.02</text>
<rect x="279.30" y="121.60" width="57.00" height="8.40" fill="#c2c2c2" stroke="#000" stroke-width="1.0"/>
<rect x="279.30" y="133.40" width="57.00" height="8.80" fill="#cecece" stroke="#000" stroke-width="1.0"/>
<rect x="280.00" y="122.70" width="11.00" height="4.60" rx="2.30" fill="#000" opacity="1.00" filter="url(#bl)"/>
<rect x="280.50" y="136.40" width="10.00" height="3.00" rx="1.50" fill="#000" opacity="1.00" filter="url(#bl)"/>
<rect x="291.60" y="122.80" width="10.00" height="4.40" rx="2.20" fill="#000" opacity="1.00" filter="url(#bl)"/>
<rect x="291.35" y="136.00" width="10.50" height="3.80" rx="1.90" fill="#000" opacity="1.00" filter="url(#bl)"/>
<rect x="303.45" y="123.40" width="8.50" height="3.20" rx="1.60" fill="#000" opacity="0.95" filter="url(#bl)"/>
<rect x="302.20" y="135.70" width="11.00" height="4.40" rx="2.20" fill="#000" opacity="1.00" filter="url(#bl)"/>
<rect x="314.80" y="123.70" width="8.00" height="2.60" rx="1.30" fill="#000" opacity="0.40" filter="url(#bl)"/>
<rect x="313.30" y="135.60" width="11.00" height="4.60" rx="2.30" fill="#000" opacity="1.00" filter="url(#bl)"/>
<rect x="325.90" y="124.00" width="8.00" height="2.00" rx="1.00" fill="#000" opacity="0.08" filter="url(#bl)"/>
<rect x="324.65" y="136.00" width="10.50" height="3.80" rx="1.90" fill="#000" opacity="1.00" filter="url(#bl)"/>
<line x1="280.00" y1="110.35" x2="335.60" y2="110.35" stroke="#000" stroke-width="0.9"/>
<text x="307.80" y="106.58" font-size="4.4" text-anchor="middle">CHX</text>
<text x="285.50" y="117.08" font-size="4.4" text-anchor="middle">0</text>
<text x="296.60" y="117.08" font-size="4.4" text-anchor="middle">1</text>
<text x="307.70" y="117.08" font-size="4.4" text-anchor="middle">2</text>
<text x="318.80" y="117.08" font-size="4.4" text-anchor="middle">3</text>
<text x="329.90" y="117.08" font-size="4.4" text-anchor="middle">4</text>
<text x="289.10" y="148.00" font-size="4.4" text-anchor="end" transform="rotate(-45 289.10 148.00)">1</text>
<text x="300.20" y="148.00" font-size="4.4" text-anchor="end" transform="rotate(-45 300.20 148.00)">0.70</text>
<text x="311.30" y="148.00" font-size="4.4" text-anchor="end" transform="rotate(-45 311.30 148.00)">0.38</text>
<text x="322.40" y="148.00" font-size="4.4" text-anchor="end" transform="rotate(-45 322.40 148.00)">0.13</text>
<text x="333.50" y="148.00" font-size="4.4" text-anchor="end" transform="rotate(-45 333.50 148.00)">0.00</text>
<rect x="339.80" y="121.60" width="56.70" height="8.40" fill="#b2b2b2" stroke="#000" stroke-width="1.0"/>
<rect x="339.80" y="133.40" width="56.70" height="8.80" fill="#bebebe" stroke="#000" stroke-width="1.0"/>
<rect x="341.25" y="123.20" width="9.50" height="3.60" rx="1.80" fill="#000" opacity="1.00" filter="url(#bl)"/>
<rect x="340.75" y="135.70" width="10.50" height="4.40" rx="2.20" fill="#000" opacity="1.00" filter="url(#bl)"/>
<rect x="352.85" y="136.40" width="8.50" height="3.00" rx="1.50" fill="#000" opacity="0.95" filter="url(#bl)"/>
<rect x="363.70" y="136.40" width="9.00" height="3.00" rx="1.50" fill="#000" opacity="0.95" filter="url(#bl)"/>
<rect x="374.80" y="136.40" width="9.00" height="3.00" rx="1.50" fill="#000" opacity="0.95" filter="url(#bl)"/>
<rect x="386.40" y="136.70" width="8.00" height="2.40" rx="1.20" fill="#000" opacity="0.85" filter="url(#bl)"/>
<line x1="340.50" y1="110.35" x2="395.80" y2="110.35" stroke="#000" stroke-width="0.9"/>
<text x="368.15" y="106.58" font-size="4.4" text-anchor="middle">CHX + MK2206</text>
<text x="346.00" y="117.08" font-size="4.4" text-anchor="middle">0</text>
<text x="357.10" y="117.08" font-size="4.4" text-anchor="middle">1</text>
<text x="368.20" y="117.08" font-size="4.4" text-anchor="middle">2</text>
<text x="379.30" y="117.08" font-size="4.4" text-anchor="middle">3</text>
<text x="390.40" y="117.08" font-size="4.4" text-anchor="middle">4</text>
<text x="349.60" y="148.00" font-size="4.4" text-anchor="end" transform="rotate(-45 349.60 148.00)">1</text>
<text x="360.70" y="148.00" font-size="4.4" text-anchor="end" transform="rotate(-45 360.70 148.00)">0.00</text>
<text x="371.80" y="148.00" font-size="4.4" text-anchor="end" transform="rotate(-45 371.80 148.00)">0.00</text>
<text x="382.90" y="148.00" font-size="4.4" text-anchor="end" transform="rotate(-45 382.90 148.00)">0.00</text>
<text x="394.00" y="148.00" font-size="4.4" text-anchor="end" transform="rotate(-45 394.00 148.00)">0.00</text>
<text x="93.80" y="98.07" font-size="5.2" text-anchor="middle">LME-1</text>
<text x="215.50" y="98.07" font-size="5.2" text-anchor="middle">MM1.S</text>
<text x="338.00" y="98.07" font-size="5.2" text-anchor="middle">XG-3</text>
<text x="29.20" y="127.11" font-size="4.2" text-anchor="end">40 kDa</text>
<line x1="31.40" y1="125.60" x2="35.00" y2="125.60" stroke="#000" stroke-width="0.8"/>
<text x="29.20" y="139.51" font-size="4.2" text-anchor="end">45 kDa</text>
<line x1="31.40" y1="138.00" x2="35.00" y2="138.00" stroke="#000" stroke-width="0.8"/>
<text x="397.30" y="117.51" font-size="4.2">Hours</text>
<line x1="401.00" y1="126.20" x2="405.30" y2="126.20" stroke="#000" stroke-width="1.1"/>
<polygon points="397.70,126.20 403.00,123.50 401.80,126.20 403.00,128.90" fill="#000"/>
<text x="407.50" y="127.78" font-size="4.4">MCL1</text>
<line x1="401.00" y1="138.20" x2="405.30" y2="138.20" stroke="#000" stroke-width="1.1"/>
<polygon points="397.70,138.20 403.00,135.50 401.80,138.20 403.00,140.90" fill="#000"/>
<text x="407.50" y="139.78" font-size="4.4">β-Actin</text>
<rect x="35.50" y="188.60" width="56.50" height="8.40" fill="#c0c0c0" stroke="#000" stroke-width="1.0"/>
<rect x="35.50" y="200.40" width="56.50" height="8.80" fill="#cacaca" stroke="#000" stroke-width="1.0"/>
<rect x="36.95" y="190.50" width="9.50" height="3.00" rx="1.50" fill="#000" opacity="1.00" filter="url(#bl)"/>
<rect x="36.45" y="203.25" width="10.50" height="3.30" rx="1.65" fill="#000" opacity="1.00" filter="url(#bl)"/>
<rect x="49.30" y="191.20" width="7.00" height="1.60" rx="0.80" fill="#000" opacity="0.30" filter="url(#bl)"/>
<rect x="47.55" y="203.25" width="10.50" height="3.30" rx="1.65" fill="#000" opacity="1.00" filter="url(#bl)"/>
<rect x="60.40" y="191.20" width="7.00" height="1.60" rx="0.80" fill="#000" opacity="0.05" filter="url(#bl)"/>
<rect x="58.90" y="203.35" width="10.00" height="3.10" rx="1.55" fill="#000" opacity="1.00" filter="url(#bl)"/>
<rect x="70.00" y="203.45" width="10.00" height="2.90" rx="1.45" fill="#000" opacity="1.00" filter="url(#bl)"/>
<rect x="81.10" y="203.35" width="10.00" height="3.10" rx="1.55" fill="#000" opacity="1.00" filter="url(#bl)"/>
<line x1="36.20" y1="177.35" x2="91.30" y2="177.35" stroke="#000" stroke-width="0.9"/>
<text x="63.75" y="173.58" font-size="4.4" text-anchor="middle">CHX</text>
<text x="41.70" y="184.08" font-size="4.4" text-anchor="middle">0</text>
<text x="52.80" y="184.08" font-size="4.4" text-anchor="middle">1</text>
<text x="63.90" y="184.08" font-size="4.4" text-anchor="middle">2</text>
<text x="75.00" y="184.08" font-size="4.4" text-anchor="middle">3</text>
<text x="86.10" y="184.08" font-size="4.4" text-anchor="middle">4</text>
<text x="45.30" y="215.00" font-size="4.4" text-anchor="end" transform="rotate(-45 45.30 215.00)">1</text>
<text x="56.40" y="215.00" font-size="4.4" text-anchor="end" transform="rotate(-45 56.40 215.00)">0.16</text>
<text x="67.50" y="215.00" font-size="4.4" text-anchor="end" transform="rotate(-45 67.50 215.00)">0.02</text>
<text x="78.60" y="215.00" font-size="4.4" text-anchor="end" transform="rotate(-45 78.60 215.00)">0.01</text>
<text x="89.70" y="215.00" font-size="4.4" text-anchor="end" transform="rotate(-45 89.70 215.00)">0.00</text>
<rect x="95.00" y="188.60" width="57.00" height="8.40" fill="#bcbcbc" stroke="#000" stroke-width="1.0"/>
<rect x="95.00" y="200.40" width="57.00" height="8.80" fill="#c8c8c8" stroke="#000" stroke-width="1.0"/>
<rect x="96.45" y="190.60" width="9.50" height="2.80" rx="1.40" fill="#000" opacity="1.00" filter="url(#bl)"/>
<rect x="95.95" y="203.55" width="10.50" height="2.70" rx="1.35" fill="#000" opacity="1.00" filter="url(#bl)"/>
<rect x="109.30" y="191.20" width="6.00" height="1.60" rx="0.80" fill="#000" opacity="0.40" filter="url(#bl)"/>
<rect x="107.05" y="203.45" width="10.50" height="2.90" rx="1.45" fill="#000" opacity="1.00" filter="url(#bl)"/>
<rect x="120.40" y="191.20" width="6.00" height="1.60" rx="0.80" fill="#000" opacity="0.05" filter="url(#bl)"/>
<rect x="118.15" y="203.45" width="10.50" height="2.90" rx="1.45" fill="#000" opacity="1.00" filter="url(#bl)"/>
<rect x="129.50" y="203.65" width="10.00" height="2.50" rx="1.25" fill="#000" opacity="1.00" filter="url(#bl)"/>
<rect x="140.60" y="203.55" width="10.00" height="2.70" rx="1.35" fill="#000" opacity="1.00" filter="url(#bl)"/>
<line x1="95.70" y1="177.35" x2="151.30" y2="177.35" stroke="#000" stroke-width="0.9"/>
<text x="123.50" y="173.58" font-size="4.4" text-anchor="middle">CHX + MK2206</text>
<text x="101.20" y="184.08" font-size="4.4" text-anchor="middle">0</text>
<text x="112.30" y="184.08" font-size="4.4" text-anchor="middle">1</text>
<text x="123.40" y="184.08" font-size="4.4" text-anchor="middle">2</text>
<text x="134.50" y="184.08" font-size="4.4" text-anchor="middle">3</text>
<text x="145.60" y="184.08" font-size="4.4" text-anchor="middle">4</text>
<text x="104.80" y="215.00" font-size="4.4" text-anchor="end" transform="rotate(-45 104.80 215.00)">1</text>
<text x="115.90" y="215.00" font-size="4.4" text-anchor="end" transform="rotate(-45 115.90 215.00)">0.24</text>
<text x="127.00" y="215.00" font-size="4.4" text-anchor="end" transform="rotate(-45 127.00 215.00)">0.03</text>
<text x="138.10" y="215.00" font-size="4.4" text-anchor="end" transform="rotate(-45 138.10 215.00)">0.00</text>
<text x="149.20" y="215.00" font-size="4.4" text-anchor="end" transform="rotate(-45 149.20 215.00)">0.00</text>
<rect x="156.50" y="188.60" width="57.50" height="8.40" fill="#bcbcbc" stroke="#000" stroke-width="1.0"/>
<rect x="156.50" y="200.40" width="57.50" height="8.80" fill="#c4c4c4" stroke="#000" stroke-width="1.0"/>
<rect x="157.95" y="190.60" width="9.50" height="2.80" rx="1.40" fill="#000" opacity="1.00" filter="url(#bl)"/>
<rect x="157.20" y="203.25" width="11.00" height="3.30" rx="1.65" fill="#000" opacity="1.00" filter="url(#bl)"/>
<rect x="169.30" y="190.70" width="9.00" height="2.60" rx="1.30" fill="#000" opacity="0.95" filter="url(#bl)"/>
<rect x="168.30" y="203.35" width="11.00" height="3.10" rx="1.55" fill="#000" opacity="1.00" filter="url(#bl)"/>
<rect x="180.90" y="190.90" width="8.00" height="2.20" rx="1.10" fill="#000" opacity="0.50" filter="url(#bl)"/>
<rect x="179.65" y="203.25" width="10.50" height="3.30" rx="1.65" fill="#000" opacity="1.00" filter="url(#bl)"/>
<rect x="192.50" y="191.00" width="7.00" height="2.00" rx="1.00" fill="#000" opacity="0.35" filter="url(#bl)"/>
<rect x="190.75" y="203.15" width="10.50" height="3.50" rx="1.75" fill="#000" opacity="1.00" filter="url(#bl)"/>
<rect x="203.60" y="191.00" width="7.00" height="2.00" rx="1.00" fill="#000" opacity="0.08" filter="url(#bl)"/>
<rect x="201.85" y="203.15" width="10.50" height="3.50" rx="1.75" fill="#000" opacity="1.00" filter="url(#bl)"/>
<line x1="157.20" y1="177.35" x2="213.30" y2="177.35" stroke="#000" stroke-width="0.9"/>
<text x="185.25" y="173.58" font-size="4.4" text-anchor="middle">CHX</text>
<text x="162.70" y="184.08" font-size="4.4" text-anchor="middle">0</text>
<text x="173.80" y="184.08" font-size="4.4" text-anchor="middle">1</text>
<text x="184.90" y="184.08" font-size="4.4" text-anchor="middle">2</text>
<text x="196.00" y="184.08" font-size="4.4" text-anchor="middle">3</text>
<text x="207.10" y="184.08" font-size="4.4" text-anchor="middle">4</text>
<text x="166.30" y="215.00" font-size="4.4" text-anchor="end" transform="rotate(-45 166.30 215.00)">1</text>
<text x="177.40" y="215.00" font-size="4.4" text-anchor="end" transform="rotate(-45 177.40 215.00)">0.68</text>
<text x="188.50" y="215.00" font-size="4.4" text-anchor="end" transform="rotate(-45 188.50 215.00)">0.35</text>
<text x="199.60" y="215.00" font-size="4.4" text-anchor="end" transform="rotate(-45 199.60 215.00)">0.18</text>
<text x="210.70" y="215.00" font-size="4.4" text-anchor="end" transform="rotate(-45 210.70 215.00)">0.05</text>
<rect x="217.50" y="188.60" width="57.00" height="8.40" fill="#b8b8b8" stroke="#000" stroke-width="1.0"/>
<rect x="217.50" y="200.40" width="57.00" height="8.80" fill="#c2c2c2" stroke="#000" stroke-width="1.0"/>
<rect x="218.45" y="190.30" width="10.50" height="3.40" rx="1.70" fill="#000" opacity="1.00" filter="url(#bl)"/>
<rect x="218.45" y="203.15" width="10.50" height="3.50" rx="1.75" fill="#000" opacity="1.00" filter="url(#bl)"/>
<rect x="230.55" y="190.90" width="8.50" height="2.20" rx="1.10" fill="#000" opacity="0.70" filter="url(#bl)"/>
<rect x="229.80" y="203.55" width="10.00" height="2.70" rx="1.35" fill="#000" opacity="1.00" filter="url(#bl)"/>
<rect x="241.65" y="190.80" width="8.50" height="2.40" rx="1.20" fill="#000" opacity="0.65" filter="url(#bl)"/>
<rect x="240.65" y="203.15" width="10.50" height="3.50" rx="1.75" fill="#000" opacity="1.00" filter="url(#bl)"/>
<rect x="253.00" y="191.00" width="8.00" height="2.00" rx="1.00" fill="#000" opacity="0.35" filter="url(#bl)"/>
<rect x="251.75" y="203.05" width="10.50" height="3.70" rx="1.85" fill="#000" opacity="1.00" filter="url(#bl)"/>
<rect x="265.10" y="191.10" width="6.00" height="1.80" rx="0.90" fill="#000" opacity="0.10" filter="url(#bl)"/>
<rect x="262.85" y="203.15" width="10.50" height="3.50" rx="1.75" fill="#000" opacity="1.00" filter="url(#bl)"/>
<line x1="218.20" y1="177.35" x2="273.80" y2="177.35" stroke="#000" stroke-width="0.9"/>
<text x="246.00" y="173.58" font-size="4.4" text-anchor="middle">CHX + MK2206</text>
<text x="223.70" y="184.08" font-size="4.4" text-anchor="middle">0</text>
<text x="234.80" y="184.08" font-size="4.4" text-anchor="middle">1</text>
<text x="245.90" y="184.08" font-size="4.4" text-anchor="middle">2</text>
<text x="257.00" y="184.08" font-size="4.4" text-anchor="middle">3</text>
<text x="268.10" y="184.08" font-size="4.4" text-anchor="middle">4</text>
<text x="227.30" y="215.00" font-size="4.4" text-anchor="end" transform="rotate(-45 227.30 215.00)">1</text>
<text x="238.40" y="215.00" font-size="4.4" text-anchor="end" transform="rotate(-45 238.40 215.00)">0.42</text>
<text x="249.50" y="215.00" font-size="4.4" text-anchor="end" transform="rotate(-45 249.50 215.00)">0.34</text>
<text x="260.60" y="215.00" font-size="4.4" text-anchor="end" transform="rotate(-45 260.60 215.00)">0.12</text>
<text x="271.70" y="215.00" font-size="4.4" text-anchor="end" transform="rotate(-45 271.70 215.00)">0.03</text>
<text x="93.80" y="165.67" font-size="5.2" text-anchor="middle">UM-3</text>
<text x="215.50" y="165.67" font-size="5.2" text-anchor="middle">RPMI-8226</text>
<text x="29.20" y="193.51" font-size="4.2" text-anchor="end">40 kDa</text>
<line x1="31.40" y1="192.00" x2="35.00" y2="192.00" stroke="#000" stroke-width="0.8"/>
<text x="29.20" y="205.81" font-size="4.2" text-anchor="end">45 kDa</text>
<line x1="31.40" y1="204.30" x2="35.00" y2="204.30" stroke="#000" stroke-width="0.8"/>
<text x="275.30" y="184.51" font-size="4.2">Hours</text>
<line x1="279.00" y1="193.10" x2="283.30" y2="193.10" stroke="#000" stroke-width="1.1"/>
<polygon points="275.70,193.10 281.00,190.40 279.80,193.10 281.00,195.80" fill="#000"/>
<text x="285.60" y="194.68" font-size="4.4">MCL1</text>
<line x1="279.00" y1="205.40" x2="283.30" y2="205.40" stroke="#000" stroke-width="1.1"/>
<polygon points="275.70,205.40 281.00,202.70 279.80,205.40 281.00,208.10" fill="#000"/>
<text x="285.60" y="206.98" font-size="4.4">β-Actin</text>
<rect x="35.50" y="267.00" width="80.30" height="8.30" fill="#dedede" stroke="#000" stroke-width="1.0"/>
<rect x="35.50" y="278.80" width="80.30" height="8.20" fill="#d6d6d6" stroke="#000" stroke-width="1.0"/>
<rect x="40.00" y="270.00" width="9.00" height="2.00" rx="1.00" fill="#000" opacity="0.30" filter="url(#bl)"/>
<rect x="52.85" y="269.70" width="11.50" height="2.60" rx="1.30" fill="#000" opacity="1.00" filter="url(#bl)"/>
<rect x="65.80" y="269.85" width="10.00" height="2.30" rx="1.15" fill="#000" opacity="0.95" filter="url(#bl)"/>
<rect x="78.40" y="268.90" width="12.00" height="4.20" rx="2.10" fill="#000" opacity="1.00" filter="url(#bl)"/>
<rect x="92.50" y="270.20" width="9.00" height="1.60" rx="0.80" fill="#000" opacity="0.15" filter="url(#bl)"/>
<rect x="105.10" y="269.40" width="11.00" height="3.20" rx="1.60" fill="#000" opacity="1.00" filter="url(#bl)"/>
<rect x="38.30" y="281.40" width="12.40" height="3.20" rx="1.60" fill="#000" opacity="1.00" filter="url(#bl)"/>
<rect x="51.80" y="281.40" width="12.40" height="3.20" rx="1.60" fill="#000" opacity="1.00" filter="url(#bl)"/>
<rect x="64.60" y="281.10" width="12.40" height="3.80" rx="1.90" fill="#000" opacity="1.00" filter="url(#bl)"/>
<rect x="77.60" y="281.30" width="12.40" height="3.40" rx="1.70" fill="#000" opacity="1.00" filter="url(#bl)"/>
<rect x="90.80" y="281.60" width="12.40" height="2.80" rx="1.40" fill="#000" opacity="1.00" filter="url(#bl)"/>
<rect x="103.80" y="281.50" width="12.40" height="3.00" rx="1.50" fill="#000" opacity="1.00" filter="url(#bl)"/>
<text x="50.00" y="242.67" font-size="5.2" text-anchor="middle">LME-1</text>
<text x="76.30" y="242.67" font-size="5.2" text-anchor="middle">MM1.S</text>
<text x="102.00" y="242.67" font-size="5.2" text-anchor="middle">XG-3</text>
<path d="M38.00,249.20 V246.40 H63.00 V249.20" fill="none" stroke="#000" stroke-width="1.0"/>
<path d="M64.50,249.20 V246.40 H88.80 V249.20" fill="none" stroke="#000" stroke-width="1.0"/>
<path d="M90.20,249.20 V246.40 H115.00 V249.20" fill="none" stroke="#000" stroke-width="1.0"/>
<text x="46.10" y="263.80" font-size="4.4" transform="rotate(-90 46.10 263.80)">EV</text>
<text x="59.60" y="263.80" font-size="4.4" transform="rotate(-90 59.60 263.80)">MCL1</text>
<text x="72.40" y="263.80" font-size="4.4" transform="rotate(-90 72.40 263.80)">EV</text>
<text x="85.40" y="263.80" font-size="4.4" transform="rotate(-90 85.40 263.80)">MCL1</text>
<text x="98.60" y="263.80" font-size="4.4" transform="rotate(-90 98.60 263.80)">EV</text>
<text x="111.60" y="263.80" font-size="4.4" transform="rotate(-90 111.60 263.80)">MCL1</text>
<text x="29.20" y="272.41" font-size="4.2" text-anchor="end">40 kDa</text>
<line x1="31.40" y1="270.90" x2="35.00" y2="270.90" stroke="#000" stroke-width="0.8"/>
<text x="29.20" y="284.71" font-size="4.2" text-anchor="end">45 kDa</text>
<line x1="31.40" y1="283.20" x2="35.00" y2="283.20" stroke="#000" stroke-width="0.8"/>
<line x1="120.00" y1="270.60" x2="124.30" y2="270.60" stroke="#000" stroke-width="1.1"/>
<polygon points="116.70,270.60 122.00,267.90 120.80,270.60 122.00,273.30" fill="#000"/>
<text x="126.20" y="272.15" font-size="4.3">MCL1</text>
<line x1="120.00" y1="283.20" x2="124.30" y2="283.20" stroke="#000" stroke-width="1.1"/>
<polygon points="116.70,283.20 122.00,280.50 120.80,283.20 122.00,285.90" fill="#000"/>
<text x="126.20" y="284.75" font-size="4.3">β-Actin</text>
<text x="44.80" y="292.20" font-size="4.2" text-anchor="end" transform="rotate(-45 44.80 292.20)">1</text>
<text x="58.30" y="292.20" font-size="4.2" text-anchor="end" transform="rotate(-45 58.30 292.20)">3.78</text>
<text x="71.10" y="292.20" font-size="4.2" text-anchor="end" transform="rotate(-45 71.10 292.20)">1</text>
<text x="84.10" y="292.20" font-size="4.2" text-anchor="end" transform="rotate(-45 84.10 292.20)">2.08</text>
<text x="97.30" y="292.20" font-size="4.2" text-anchor="end" transform="rotate(-45 97.30 292.20)">1</text>
<text x="110.30" y="292.20" font-size="4.2" text-anchor="end" transform="rotate(-45 110.30 292.20)">10.03</text>
<rect x="185.20" y="286.38" width="6.30" height="19.43" fill="#8a82c4"/>
<rect x="194.80" y="302.12" width="6.30" height="3.68" fill="#5aa83a"/>
<line x1="186.90" y1="286.07" x2="189.80" y2="286.07" stroke="#000" stroke-width="1.2" stroke-linecap="round"/>
<line x1="196.50" y1="301.82" x2="199.40" y2="301.82" stroke="#000" stroke-width="1.2" stroke-linecap="round"/>
<line x1="188.20" y1="282.77" x2="198.50" y2="282.77" stroke="#000" stroke-width="1.1"/>
<text x="193.30" y="282.38" font-size="3.6" text-anchor="middle" fill="#222" style="stroke-width:0.01px">****</text>
<line x1="193.00" y1="305.80" x2="193.00" y2="308.80" stroke="#000" stroke-width="0.9"/>
<text x="195.60" y="313.40" font-size="5.3" text-anchor="end" transform="rotate(-45 195.60 313.40)">1.6 µM</text>
<rect x="211.40" y="276.40" width="6.30" height="29.40" fill="#8a82c4"/>
<rect x="221.00" y="298.45" width="6.30" height="7.35" fill="#5aa83a"/>
<line x1="213.10" y1="276.10" x2="216.00" y2="276.10" stroke="#000" stroke-width="1.2" stroke-linecap="round"/>
<line x1="222.70" y1="298.15" x2="225.60" y2="298.15" stroke="#000" stroke-width="1.2" stroke-linecap="round"/>
<line x1="214.40" y1="272.80" x2="224.70" y2="272.80" stroke="#000" stroke-width="1.1"/>
<text x="219.50" y="272.40" font-size="3.6" text-anchor="middle" fill="#222" style="stroke-width:0.01px">****</text>
<line x1="219.20" y1="305.80" x2="219.20" y2="308.80" stroke="#000" stroke-width="0.9"/>
<text x="221.80" y="313.40" font-size="5.3" text-anchor="end" transform="rotate(-45 221.80 313.40)">3.2 µM</text>
<rect x="237.60" y="265.38" width="6.30" height="40.43" fill="#8a82c4"/>
<rect x="247.20" y="293.73" width="6.30" height="12.08" fill="#5aa83a"/>
<line x1="239.30" y1="265.07" x2="242.20" y2="265.07" stroke="#000" stroke-width="1.2" stroke-linecap="round"/>
<line x1="248.90" y1="293.43" x2="251.80" y2="293.43" stroke="#000" stroke-width="1.2" stroke-linecap="round"/>
<line x1="240.60" y1="261.77" x2="250.90" y2="261.77" stroke="#000" stroke-width="1.1"/>
<text x="245.70" y="261.38" font-size="3.6" text-anchor="middle" fill="#222" style="stroke-width:0.01px">****</text>
<line x1="245.40" y1="305.80" x2="245.40" y2="308.80" stroke="#000" stroke-width="0.9"/>
<text x="248.00" y="313.40" font-size="5.3" text-anchor="end" transform="rotate(-45 248.00 313.40)">6.4 µM</text>
<line x1="180.20" y1="250.00" x2="180.20" y2="306.20" stroke="#000" stroke-width="1.3"/>
<line x1="179.60" y1="305.60" x2="258.90" y2="305.60" stroke="#000" stroke-width="1.3"/>
<line x1="177.30" y1="305.80" x2="180.50" y2="305.80" stroke="#000" stroke-width="0.9"/>
<text x="174.30" y="307.74" font-size="5.4" text-anchor="end">0</text>
<line x1="177.30" y1="295.30" x2="180.50" y2="295.30" stroke="#000" stroke-width="0.9"/>
<text x="174.30" y="297.24" font-size="5.4" text-anchor="end">20</text>
<line x1="177.30" y1="284.80" x2="180.50" y2="284.80" stroke="#000" stroke-width="0.9"/>
<text x="174.30" y="286.74" font-size="5.4" text-anchor="end">40</text>
<line x1="177.30" y1="274.30" x2="180.50" y2="274.30" stroke="#000" stroke-width="0.9"/>
<text x="174.30" y="276.24" font-size="5.4" text-anchor="end">60</text>
<line x1="177.30" y1="263.80" x2="180.50" y2="263.80" stroke="#000" stroke-width="0.9"/>
<text x="174.30" y="265.74" font-size="5.4" text-anchor="end">80</text>
<line x1="177.30" y1="253.30" x2="180.50" y2="253.30" stroke="#000" stroke-width="0.9"/>
<text x="174.30" y="255.24" font-size="5.4" text-anchor="end">100</text>
<text x="219.20" y="245.37" font-size="7.15" text-anchor="middle">LME-1</text>
<text x="159.20" y="277.80" font-size="6.4" text-anchor="middle" transform="rotate(-90 159.20 277.80)" textLength="48" lengthAdjust="spacingAndGlyphs" style="stroke-width:0.22px">% specific cell death</text>
<text x="219.50" y="335.74" font-size="6.5" text-anchor="middle" textLength="23.3" lengthAdjust="spacingAndGlyphs" style="stroke-width:0.2px">[MK2206]</text>
<rect x="297.20" y="279.03" width="6.30" height="26.78" fill="#8a82c4"/>
<rect x="306.80" y="304.75" width="6.30" height="1.05" fill="#5aa83a"/>
<line x1="298.90" y1="278.73" x2="301.80" y2="278.73" stroke="#000" stroke-width="1.2" stroke-linecap="round"/>
<line x1="308.50" y1="304.45" x2="311.40" y2="304.45" stroke="#000" stroke-width="1.2" stroke-linecap="round"/>
<line x1="300.20" y1="275.43" x2="310.50" y2="275.43" stroke="#000" stroke-width="1.1"/>
<text x="305.30" y="275.03" font-size="3.6" text-anchor="middle" fill="#222" style="stroke-width:0.01px">****</text>
<line x1="305.00" y1="305.80" x2="305.00" y2="308.80" stroke="#000" stroke-width="0.9"/>
<text x="307.60" y="313.40" font-size="5.3" text-anchor="end" transform="rotate(-45 307.60 313.40)">1.6 µM</text>
<rect x="323.40" y="266.95" width="6.30" height="38.85" fill="#8a82c4"/>
<rect x="333.00" y="300.55" width="6.30" height="5.25" fill="#5aa83a"/>
<line x1="325.10" y1="266.65" x2="328.00" y2="266.65" stroke="#000" stroke-width="1.2" stroke-linecap="round"/>
<line x1="334.70" y1="300.25" x2="337.60" y2="300.25" stroke="#000" stroke-width="1.2" stroke-linecap="round"/>
<line x1="326.40" y1="263.35" x2="336.70" y2="263.35" stroke="#000" stroke-width="1.1"/>
<text x="331.50" y="262.95" font-size="3.6" text-anchor="middle" fill="#222" style="stroke-width:0.01px">****</text>
<line x1="331.20" y1="305.80" x2="331.20" y2="308.80" stroke="#000" stroke-width="0.9"/>
<text x="333.80" y="313.40" font-size="5.3" text-anchor="end" transform="rotate(-45 333.80 313.40)">3.2 µM</text>
<rect x="349.60" y="259.07" width="6.30" height="46.73" fill="#8a82c4"/>
<rect x="359.20" y="290.57" width="6.30" height="15.23" fill="#5aa83a"/>
<line x1="351.30" y1="258.77" x2="354.20" y2="258.77" stroke="#000" stroke-width="1.2" stroke-linecap="round"/>
<line x1="360.90" y1="290.27" x2="363.80" y2="290.27" stroke="#000" stroke-width="1.2" stroke-linecap="round"/>
<line x1="352.60" y1="255.47" x2="362.90" y2="255.47" stroke="#000" stroke-width="1.1"/>
<text x="357.70" y="255.07" font-size="3.6" text-anchor="middle" fill="#222" style="stroke-width:0.01px">****</text>
<line x1="357.40" y1="305.80" x2="357.40" y2="308.80" stroke="#000" stroke-width="0.9"/>
<text x="360.00" y="313.40" font-size="5.3" text-anchor="end" transform="rotate(-45 360.00 313.40)">6.4 µM</text>
<line x1="292.20" y1="250.00" x2="292.20" y2="306.20" stroke="#000" stroke-width="1.3"/>
<line x1="291.60" y1="305.60" x2="370.90" y2="305.60" stroke="#000" stroke-width="1.3"/>
<line x1="289.30" y1="305.80" x2="292.50" y2="305.80" stroke="#000" stroke-width="0.9"/>
<text x="286.30" y="307.74" font-size="5.4" text-anchor="end">0</text>
<line x1="289.30" y1="295.30" x2="292.50" y2="295.30" stroke="#000" stroke-width="0.9"/>
<text x="286.30" y="297.24" font-size="5.4" text-anchor="end">20</text>
<line x1="289.30" y1="284.80" x2="292.50" y2="284.80" stroke="#000" stroke-width="0.9"/>
<text x="286.30" y="286.74" font-size="5.4" text-anchor="end">40</text>
<line x1="289.30" y1="274.30" x2="292.50" y2="274.30" stroke="#000" stroke-width="0.9"/>
<text x="286.30" y="276.24" font-size="5.4" text-anchor="end">60</text>
<line x1="289.30" y1="263.80" x2="292.50" y2="263.80" stroke="#000" stroke-width="0.9"/>
<text x="286.30" y="265.74" font-size="5.4" text-anchor="end">80</text>
<line x1="289.30" y1="253.30" x2="292.50" y2="253.30" stroke="#000" stroke-width="0.9"/>
<text x="286.30" y="255.24" font-size="5.4" text-anchor="end">100</text>
<text x="331.70" y="245.37" font-size="7.15" text-anchor="middle">MM1.S</text>
<text x="271.20" y="277.80" font-size="6.4" text-anchor="middle" transform="rotate(-90 271.20 277.80)" textLength="48" lengthAdjust="spacingAndGlyphs" style="stroke-width:0.22px">% specific cell death</text>
<text x="331.50" y="335.74" font-size="6.5" text-anchor="middle" textLength="23.3" lengthAdjust="spacingAndGlyphs" style="stroke-width:0.2px">[MK2206]</text>
<rect x="409.20" y="262.75" width="6.30" height="43.05" fill="#8a82c4"/>
<rect x="418.80" y="291.10" width="6.30" height="14.70" fill="#5aa83a"/>
<line x1="410.90" y1="262.45" x2="413.80" y2="262.45" stroke="#000" stroke-width="1.2" stroke-linecap="round"/>
<line x1="420.50" y1="290.80" x2="423.40" y2="290.80" stroke="#000" stroke-width="1.2" stroke-linecap="round"/>
<line x1="412.20" y1="259.15" x2="422.50" y2="259.15" stroke="#000" stroke-width="1.1"/>
<text x="417.30" y="258.75" font-size="3.6" text-anchor="middle" fill="#222" style="stroke-width:0.01px">****</text>
<line x1="417.00" y1="305.80" x2="417.00" y2="308.80" stroke="#000" stroke-width="0.9"/>
<text x="419.60" y="313.40" font-size="5.3" text-anchor="end" transform="rotate(-45 419.60 313.40)">1.6 µM</text>
<rect x="435.40" y="259.07" width="6.30" height="46.73" fill="#8a82c4"/>
<rect x="445.00" y="288.48" width="6.30" height="17.32" fill="#5aa83a"/>
<line x1="437.10" y1="258.77" x2="440.00" y2="258.77" stroke="#000" stroke-width="1.2" stroke-linecap="round"/>
<line x1="446.70" y1="288.18" x2="449.60" y2="288.18" stroke="#000" stroke-width="1.2" stroke-linecap="round"/>
<line x1="438.40" y1="255.47" x2="448.70" y2="255.47" stroke="#000" stroke-width="1.1"/>
<text x="443.50" y="255.07" font-size="3.6" text-anchor="middle" fill="#222" style="stroke-width:0.01px">****</text>
<line x1="443.20" y1="305.80" x2="443.20" y2="308.80" stroke="#000" stroke-width="0.9"/>
<text x="445.80" y="313.40" font-size="5.3" text-anchor="end" transform="rotate(-45 445.80 313.40)">3.2 µM</text>
<rect x="461.60" y="255.40" width="6.30" height="50.40" fill="#8a82c4"/>
<rect x="471.20" y="280.60" width="6.30" height="25.20" fill="#5aa83a"/>
<line x1="463.30" y1="255.10" x2="466.20" y2="255.10" stroke="#000" stroke-width="1.2" stroke-linecap="round"/>
<line x1="472.90" y1="280.30" x2="475.80" y2="280.30" stroke="#000" stroke-width="1.2" stroke-linecap="round"/>
<line x1="464.60" y1="251.80" x2="474.90" y2="251.80" stroke="#000" stroke-width="1.1"/>
<text x="469.70" y="251.40" font-size="3.6" text-anchor="middle" fill="#222" style="stroke-width:0.01px">****</text>
<line x1="469.40" y1="305.80" x2="469.40" y2="308.80" stroke="#000" stroke-width="0.9"/>
<text x="472.00" y="313.40" font-size="5.3" text-anchor="end" transform="rotate(-45 472.00 313.40)">6.4 µM</text>
<line x1="404.20" y1="250.00" x2="404.20" y2="306.20" stroke="#000" stroke-width="1.3"/>
<line x1="403.60" y1="305.60" x2="489.50" y2="305.60" stroke="#000" stroke-width="1.3"/>
<line x1="401.30" y1="305.80" x2="404.50" y2="305.80" stroke="#000" stroke-width="0.9"/>
<text x="398.30" y="307.74" font-size="5.4" text-anchor="end">0</text>
<line x1="401.30" y1="295.30" x2="404.50" y2="295.30" stroke="#000" stroke-width="0.9"/>
<text x="398.30" y="297.24" font-size="5.4" text-anchor="end">20</text>
<line x1="401.30" y1="284.80" x2="404.50" y2="284.80" stroke="#000" stroke-width="0.9"/>
<text x="398.30" y="286.74" font-size="5.4" text-anchor="end">40</text>
<line x1="401.30" y1="274.30" x2="404.50" y2="274.30" stroke="#000" stroke-width="0.9"/>
<text x="398.30" y="276.24" font-size="5.4" text-anchor="end">60</text>
<line x1="401.30" y1="263.80" x2="404.50" y2="263.80" stroke="#000" stroke-width="0.9"/>
<text x="398.30" y="265.74" font-size="5.4" text-anchor="end">80</text>
<line x1="401.30" y1="253.30" x2="404.50" y2="253.30" stroke="#000" stroke-width="0.9"/>
<text x="398.30" y="255.24" font-size="5.4" text-anchor="end">100</text>
<text x="446.70" y="245.37" font-size="7.15" text-anchor="middle">XG-3</text>
<text x="383.20" y="277.80" font-size="6.4" text-anchor="middle" transform="rotate(-90 383.20 277.80)" textLength="48" lengthAdjust="spacingAndGlyphs" style="stroke-width:0.22px">% specific cell death</text>
<text x="443.50" y="335.74" font-size="6.5" text-anchor="middle" textLength="23.3" lengthAdjust="spacingAndGlyphs" style="stroke-width:0.2px">[MK2206]</text>
<rect x="493.00" y="251.00" width="6.00" height="2.70" fill="#8a82c4"/>
<text x="501.40" y="253.91" font-size="4.2">EV</text>
<rect x="493.00" y="259.00" width="6.00" height="2.70" fill="#5aa83a"/>
<text x="501.40" y="261.91" font-size="4.2">MCL1</text>
<line x1="42.50" y1="359.00" x2="42.50" y2="431.15" stroke="#000" stroke-width="1.3"/>
<line x1="41.85" y1="430.50" x2="149.50" y2="430.50" stroke="#000" stroke-width="1.3"/>
<line x1="39.10" y1="430.50" x2="42.50" y2="430.50" stroke="#000" stroke-width="0.9"/>
<text x="35.90" y="432.44" font-size="5.4" text-anchor="end">0</text>
<line x1="39.10" y1="396.25" x2="42.50" y2="396.25" stroke="#000" stroke-width="0.9"/>
<text x="35.90" y="398.19" font-size="5.4" text-anchor="end">50</text>
<line x1="39.10" y1="362.00" x2="42.50" y2="362.00" stroke="#000" stroke-width="0.9"/>
<text x="35.90" y="363.94" font-size="5.4" text-anchor="end">100</text>
<line x1="57.10" y1="430.50" x2="57.10" y2="433.50" stroke="#000" stroke-width="0.9"/>
<text x="59.30" y="438.60" font-size="5.1" text-anchor="end" transform="rotate(-45 59.30 438.60)">100/3.9</text>
<line x1="72.20" y1="430.50" x2="72.20" y2="433.50" stroke="#000" stroke-width="0.9"/>
<text x="74.40" y="438.60" font-size="5.1" text-anchor="end" transform="rotate(-45 74.40 438.60)">200/7.81</text>
<line x1="87.10" y1="430.50" x2="87.10" y2="433.50" stroke="#000" stroke-width="0.9"/>
<text x="89.30" y="438.60" font-size="5.1" text-anchor="end" transform="rotate(-45 89.30 438.60)">400/15.62</text>
<line x1="102.10" y1="430.50" x2="102.10" y2="433.50" stroke="#000" stroke-width="0.9"/>
<text x="104.30" y="438.60" font-size="5.1" text-anchor="end" transform="rotate(-45 104.30 438.60)">800/31.25</text>
<line x1="117.00" y1="430.50" x2="117.00" y2="433.50" stroke="#000" stroke-width="0.9"/>
<text x="119.20" y="438.60" font-size="5.1" text-anchor="end" transform="rotate(-45 119.20 438.60)">1600/62.5</text>
<line x1="132.00" y1="430.50" x2="132.00" y2="433.50" stroke="#000" stroke-width="0.9"/>
<text x="134.20" y="438.60" font-size="5.1" text-anchor="end" transform="rotate(-45 134.20 438.60)">3200/125</text>
<line x1="146.90" y1="430.50" x2="146.90" y2="433.50" stroke="#000" stroke-width="0.9"/>
<text x="149.10" y="438.60" font-size="5.1" text-anchor="end" transform="rotate(-45 149.10 438.60)">6400/250</text>
<path d="M42.50,430.50 C47.37,424.47 52.23,418.78 57.10,412.40 C62.13,405.80 67.17,397.63 72.20,391.40 C77.17,385.26 82.13,378.65 87.10,374.80 C92.10,370.93 97.10,367.17 102.10,365.90 C107.07,364.64 112.03,364.00 117.00,363.50 C122.00,363.00 127.00,362.51 132.00,362.40 C136.97,362.29 141.93,362.27 146.90,362.20" fill="none" stroke="#1f3e8a" stroke-width="1.3" stroke-linecap="round"/>
<polygon points="55.80,411.40 58.40,411.40 57.10,413.70" fill="#1f3e8a"/>
<polygon points="70.90,390.40 73.50,390.40 72.20,392.70" fill="#1f3e8a"/>
<polygon points="85.80,373.80 88.40,373.80 87.10,376.10" fill="#1f3e8a"/>
<polygon points="100.80,364.90 103.40,364.90 102.10,367.20" fill="#1f3e8a"/>
<polygon points="115.70,362.50 118.30,362.50 117.00,364.80" fill="#1f3e8a"/>
<polygon points="130.70,361.40 133.30,361.40 132.00,363.70" fill="#1f3e8a"/>
<polygon points="145.60,361.20 148.20,361.20 146.90,363.50" fill="#1f3e8a"/>
<path d="M42.50,430.50 C47.37,427.77 52.23,425.24 57.10,422.30 C62.13,419.26 67.17,415.77 72.20,412.40 C77.17,409.07 82.13,405.34 87.10,402.20 C92.10,399.04 97.10,396.36 102.10,393.40 C107.07,390.46 112.03,387.52 117.00,384.50 C122.00,381.46 127.00,378.22 132.00,375.20 C136.97,372.20 141.93,369.33 146.90,366.40" fill="none" stroke="#6ab536" stroke-width="1.3" stroke-linecap="round"/>
<polygon points="55.80,423.30 58.40,423.30 57.10,421.00" fill="#6ab536"/>
<polygon points="70.90,413.40 73.50,413.40 72.20,411.10" fill="#6ab536"/>
<polygon points="85.80,403.20 88.40,403.20 87.10,400.90" fill="#6ab536"/>
<polygon points="100.80,394.40 103.40,394.40 102.10,392.10" fill="#6ab536"/>
<polygon points="115.70,385.50 118.30,385.50 117.00,383.20" fill="#6ab536"/>
<polygon points="130.70,376.20 133.30,376.20 132.00,373.90" fill="#6ab536"/>
<polygon points="145.60,367.40 148.20,367.40 146.90,365.10" fill="#6ab536"/>
<path d="M42.50,430.35 C43.27,430.33 44.03,430.32 44.80,430.30 C45.80,430.28 46.80,430.27 47.80,430.25 C48.80,430.23 49.80,430.21 50.80,430.19 C51.80,430.17 52.80,430.14 53.80,430.12 C54.80,430.09 55.80,430.06 56.80,430.03 C57.80,430.00 58.80,429.97 59.80,429.93 C60.80,429.89 61.80,429.85 62.80,429.81 C63.80,429.77 64.80,429.72 65.80,429.67 C66.80,429.62 67.80,429.57 68.80,429.51 C69.80,429.45 70.80,429.38 71.80,429.32 C72.80,429.25 73.80,429.17 74.80,429.09 C75.80,429.01 76.80,428.92 77.80,428.83 C78.80,428.73 79.80,428.63 80.80,428.51 C81.80,428.40 82.80,428.28 83.80,428.15 C84.80,428.02 85.80,427.88 86.80,427.73 C87.80,427.57 88.80,427.41 89.80,427.23 C90.80,427.05 91.80,426.85 92.80,426.65 C93.80,426.44 94.80,426.21 95.80,425.97 C96.80,425.72 97.80,425.46 98.80,425.18 C99.80,424.89 100.80,424.59 101.80,424.26 C102.80,423.93 103.80,423.57 104.80,423.19 C105.80,422.81 106.80,422.40 107.80,421.96 C108.80,421.52 109.80,421.04 110.80,420.53 C111.80,420.02 112.80,419.48 113.80,418.90 C114.80,418.31 115.80,417.69 116.80,417.02 C117.80,416.35 118.80,415.64 119.80,414.88 C120.80,414.12 121.80,413.31 122.80,412.46 C123.80,411.60 124.80,410.68 125.80,409.72 C126.80,408.76 127.80,407.73 128.80,406.65 C129.80,405.58 130.80,404.44 131.80,403.24 C132.80,402.05 133.80,400.79 134.80,399.48 C135.80,398.16 136.80,396.78 137.80,395.36 C138.80,393.93 139.80,392.43 140.80,390.89 C141.80,389.35 142.80,387.75 143.80,386.11 C144.80,384.47 145.80,382.76 146.80,381.04 C146.83,380.98 146.87,380.92 146.90,380.86" fill="none" stroke="#c1002b" stroke-width="1.3" stroke-linecap="round"/>
<rect x="55.95" y="429.35" width="2.30" height="2.30" fill="#c1002b"/>
<rect x="71.05" y="428.25" width="2.30" height="2.30" fill="#c1002b"/>
<rect x="85.95" y="426.45" width="2.30" height="2.30" fill="#c1002b"/>
<rect x="100.95" y="423.15" width="2.30" height="2.30" fill="#c1002b"/>
<rect x="115.85" y="414.95" width="2.30" height="2.30" fill="#c1002b"/>
<rect x="130.85" y="402.15" width="2.30" height="2.30" fill="#c1002b"/>
<rect x="145.75" y="379.55" width="2.30" height="2.30" fill="#c1002b"/>
<rect x="41.40" y="429.30" width="2.20" height="2.20" fill="#c1002b"/>
<line x1="146.90" y1="377.50" x2="146.90" y2="382.90" stroke="#000" stroke-width="0.7"/>
<line x1="145.70" y1="377.50" x2="148.10" y2="377.50" stroke="#000" stroke-width="0.7"/>
<line x1="145.70" y1="382.90" x2="148.10" y2="382.90" stroke="#000" stroke-width="0.7"/>
<text x="96.00" y="353.94" font-size="7.05" text-anchor="middle">LME-1</text>
<text x="45.20" y="366.35" font-size="4.3" fill="#222" style="stroke-width:0.01px">ED75</text>
<text x="45.20" y="371.55" font-size="4.3" fill="#222" style="stroke-width:0.01px">CI: 0.33</text>
<text x="22.20" y="394.70" font-size="6.4" text-anchor="middle" transform="rotate(-90 22.20 394.70)" textLength="48" lengthAdjust="spacingAndGlyphs" style="stroke-width:0.22px">% specific cell death</text>
<text x="96.00" y="466.18" font-size="6.6" text-anchor="middle" textLength="56.8" lengthAdjust="spacingAndGlyphs" style="stroke-width:0.2px">[MK2206/S63845 (nM)]</text>
<line x1="184.40" y1="359.00" x2="184.40" y2="431.15" stroke="#000" stroke-width="1.3"/>
<line x1="183.75" y1="430.50" x2="291.00" y2="430.50" stroke="#000" stroke-width="1.3"/>
<line x1="181.00" y1="430.50" x2="184.40" y2="430.50" stroke="#000" stroke-width="0.9"/>
<text x="177.80" y="432.44" font-size="5.4" text-anchor="end">0</text>
<line x1="181.00" y1="396.25" x2="184.40" y2="396.25" stroke="#000" stroke-width="0.9"/>
<text x="177.80" y="398.19" font-size="5.4" text-anchor="end">50</text>
<line x1="181.00" y1="362.00" x2="184.40" y2="362.00" stroke="#000" stroke-width="0.9"/>
<text x="177.80" y="363.94" font-size="5.4" text-anchor="end">100</text>
<line x1="207.70" y1="430.50" x2="207.70" y2="433.50" stroke="#000" stroke-width="0.9"/>
<text x="209.90" y="438.60" font-size="5.1" text-anchor="end" transform="rotate(-45 209.90 438.60)">100/3.90</text>
<line x1="230.90" y1="430.50" x2="230.90" y2="433.50" stroke="#000" stroke-width="0.9"/>
<text x="233.10" y="438.60" font-size="5.1" text-anchor="end" transform="rotate(-45 233.10 438.60)">200/7.80</text>
<line x1="242.60" y1="430.50" x2="242.60" y2="433.50" stroke="#000" stroke-width="0.9"/>
<text x="244.80" y="438.60" font-size="5.1" text-anchor="end" transform="rotate(-45 244.80 438.60)">300/11.72</text>
<line x1="254.10" y1="430.50" x2="254.10" y2="433.50" stroke="#000" stroke-width="0.9"/>
<text x="256.30" y="438.60" font-size="5.1" text-anchor="end" transform="rotate(-45 256.30 438.60)">400/15.62</text>
<line x1="265.80" y1="430.50" x2="265.80" y2="433.50" stroke="#000" stroke-width="0.9"/>
<text x="268.00" y="438.60" font-size="5.1" text-anchor="end" transform="rotate(-45 268.00 438.60)">600/23.44</text>
<line x1="277.30" y1="430.50" x2="277.30" y2="433.50" stroke="#000" stroke-width="0.9"/>
<text x="279.50" y="438.60" font-size="5.1" text-anchor="end" transform="rotate(-45 279.50 438.60)">800/31.25</text>
<line x1="289.10" y1="430.50" x2="289.10" y2="433.50" stroke="#000" stroke-width="0.9"/>
<text x="291.30" y="438.60" font-size="5.1" text-anchor="end" transform="rotate(-45 291.30 438.60)">1200/46.88</text>
<path d="M184.40,430.43 C185.13,430.41 185.87,430.38 186.60,430.35 C187.60,430.32 188.60,430.29 189.60,430.26 C190.60,430.22 191.60,430.18 192.60,430.13 C193.60,430.09 194.60,430.03 195.60,429.97 C196.60,429.91 197.60,429.85 198.60,429.77 C199.60,429.69 200.60,429.61 201.60,429.51 C202.60,429.41 203.60,429.30 204.60,429.18 C205.60,429.06 206.60,428.92 207.60,428.76 C208.60,428.60 209.60,428.43 210.60,428.23 C211.60,428.03 212.60,427.81 213.60,427.56 C214.60,427.31 215.60,427.03 216.60,426.72 C217.60,426.41 218.60,426.06 219.60,425.67 C220.60,425.28 221.60,424.85 222.60,424.37 C223.60,423.90 224.60,423.36 225.60,422.78 C226.60,422.20 227.60,421.56 228.60,420.86 C229.60,420.16 230.60,419.39 231.60,418.56 C232.60,417.73 233.60,416.82 234.60,415.86 C235.60,414.89 236.60,413.85 237.60,412.75 C238.60,411.65 239.60,410.47 240.60,409.25 C241.60,408.03 242.60,406.73 243.60,405.41 C244.60,404.09 245.60,402.70 246.60,401.31 C247.60,399.92 248.60,398.49 249.60,397.07 C250.60,395.65 251.60,394.21 252.60,392.81 C253.60,391.41 254.60,390.00 255.60,388.66 C256.60,387.32 257.60,385.99 258.60,384.74 C259.60,383.49 260.60,382.28 261.60,381.15 C262.60,380.02 263.60,378.93 264.60,377.93 C265.60,376.93 266.60,375.99 267.60,375.12 C268.60,374.26 269.60,373.45 270.60,372.72 C271.60,371.99 272.60,371.31 273.60,370.70 C274.60,370.09 275.60,369.52 276.60,369.02 C277.60,368.52 278.60,368.06 279.60,367.65 C280.60,367.24 281.60,366.87 282.60,366.54 C283.60,366.21 284.60,365.91 285.60,365.65 C286.60,365.38 287.60,365.15 288.60,364.94 C288.77,364.90 288.93,364.87 289.10,364.83" fill="none" stroke="#1f3e8a" stroke-width="1.3" stroke-linecap="round"/>
<polygon points="206.40,427.30 209.00,427.30 207.70,429.60" fill="#1f3e8a"/>
<polygon points="229.60,419.60 232.20,419.60 230.90,421.90" fill="#1f3e8a"/>
<polygon points="241.30,401.40 243.90,401.40 242.60,403.70" fill="#1f3e8a"/>
<polygon points="252.80,391.90 255.40,391.90 254.10,394.20" fill="#1f3e8a"/>
<polygon points="264.50,374.90 267.10,374.90 265.80,377.20" fill="#1f3e8a"/>
<polygon points="276.00,368.00 278.60,368.00 277.30,370.30" fill="#1f3e8a"/>
<polygon points="287.80,363.60 290.40,363.60 289.10,365.90" fill="#1f3e8a"/>
<path d="M184.40,430.57 C185.13,430.56 185.87,430.56 186.60,430.56 C187.60,430.56 188.60,430.55 189.60,430.55 C190.60,430.55 191.60,430.55 192.60,430.54 C193.60,430.54 194.60,430.54 195.60,430.53 C196.60,430.53 197.60,430.53 198.60,430.52 C199.60,430.52 200.60,430.51 201.60,430.51 C202.60,430.50 203.60,430.50 204.60,430.49 C205.60,430.49 206.60,430.48 207.60,430.47 C208.60,430.47 209.60,430.46 210.60,430.45 C211.60,430.44 212.60,430.43 213.60,430.43 C214.60,430.42 215.60,430.41 216.60,430.39 C217.60,430.38 218.60,430.37 219.60,430.36 C220.60,430.35 221.60,430.33 222.60,430.32 C223.60,430.30 224.60,430.28 225.60,430.27 C226.60,430.25 227.60,430.23 228.60,430.21 C229.60,430.19 230.60,430.16 231.60,430.14 C232.60,430.12 233.60,430.09 234.60,430.06 C235.60,430.03 236.60,430.00 237.60,429.97 C238.60,429.93 239.60,429.89 240.60,429.85 C241.60,429.82 242.60,429.77 243.60,429.73 C244.60,429.68 245.60,429.63 246.60,429.57 C247.60,429.52 248.60,429.46 249.60,429.40 C250.60,429.33 251.60,429.26 252.60,429.19 C253.60,429.11 254.60,429.03 255.60,428.94 C256.60,428.86 257.60,428.76 258.60,428.66 C259.60,428.56 260.60,428.45 261.60,428.33 C262.60,428.21 263.60,428.08 264.60,427.94 C265.60,427.80 266.60,427.65 267.60,427.48 C268.60,427.32 269.60,427.15 270.60,426.96 C271.60,426.77 272.60,426.57 273.60,426.35 C274.60,426.13 275.60,425.89 276.60,425.64 C277.60,425.38 278.60,425.11 279.60,424.82 C280.60,424.52 281.60,424.21 282.60,423.87 C283.60,423.53 284.60,423.17 285.60,422.78 C286.60,422.39 287.60,421.97 288.60,421.53 C288.77,421.46 288.93,421.39 289.10,421.31" fill="none" stroke="#6ab536" stroke-width="1.3" stroke-linecap="round"/>
<polygon points="206.40,431.50 209.00,431.50 207.70,429.20" fill="#6ab536"/>
<polygon points="229.60,431.10 232.20,431.10 230.90,428.80" fill="#6ab536"/>
<polygon points="241.30,430.60 243.90,430.60 242.60,428.30" fill="#6ab536"/>
<polygon points="252.80,430.00 255.40,430.00 254.10,427.70" fill="#6ab536"/>
<polygon points="264.50,428.60 267.10,428.60 265.80,426.30" fill="#6ab536"/>
<polygon points="276.00,426.40 278.60,426.40 277.30,424.10" fill="#6ab536"/>
<polygon points="287.80,422.20 290.40,422.20 289.10,419.90" fill="#6ab536"/>
<path d="M184.40,430.14 C185.13,430.11 185.87,430.08 186.60,430.05 C187.60,430.01 188.60,429.98 189.60,429.95 C190.60,429.91 191.60,429.87 192.60,429.83 C193.60,429.78 194.60,429.73 195.60,429.68 C196.60,429.63 197.60,429.57 198.60,429.51 C199.60,429.45 200.60,429.39 201.60,429.31 C202.60,429.24 203.60,429.17 204.60,429.08 C205.60,429.00 206.60,428.91 207.60,428.81 C208.60,428.71 209.60,428.60 210.60,428.49 C211.60,428.37 212.60,428.24 213.60,428.11 C214.60,427.97 215.60,427.83 216.60,427.67 C217.60,427.52 218.60,427.35 219.60,427.16 C220.60,426.98 221.60,426.79 222.60,426.58 C223.60,426.37 224.60,426.14 225.60,425.90 C226.60,425.66 227.60,425.40 228.60,425.13 C229.60,424.86 230.60,424.56 231.60,424.25 C232.60,423.94 233.60,423.61 234.60,423.26 C235.60,422.91 236.60,422.54 237.60,422.15 C238.60,421.76 239.60,421.35 240.60,420.92 C241.60,420.49 242.60,420.04 243.60,419.57 C244.60,419.10 245.60,418.61 246.60,418.10 C247.60,417.59 248.60,417.06 249.60,416.52 C250.60,415.98 251.60,415.42 252.60,414.85 C253.60,414.28 254.60,413.69 255.60,413.10 C256.60,412.51 257.60,411.90 258.60,411.30 C259.60,410.69 260.60,410.08 261.60,409.46 C262.60,408.85 263.60,408.24 264.60,407.63 C265.60,407.02 266.60,406.42 267.60,405.82 C268.60,405.23 269.60,404.64 270.60,404.06 C271.60,403.49 272.60,402.92 273.60,402.38 C274.60,401.83 275.60,401.30 276.60,400.79 C277.60,400.27 278.60,399.77 279.60,399.30 C280.60,398.82 281.60,398.37 282.60,397.93 C283.60,397.49 284.60,397.08 285.60,396.68 C286.60,396.29 287.60,395.91 288.60,395.55 C288.77,395.49 288.93,395.44 289.10,395.38" fill="none" stroke="#c1002b" stroke-width="1.3" stroke-linecap="round"/>
<rect x="206.55" y="427.15" width="2.30" height="2.30" fill="#c1002b"/>
<rect x="229.75" y="425.35" width="2.30" height="2.30" fill="#c1002b"/>
<rect x="241.45" y="418.15" width="2.30" height="2.30" fill="#c1002b"/>
<rect x="252.95" y="412.55" width="2.30" height="2.30" fill="#c1002b"/>
<rect x="264.65" y="405.15" width="2.30" height="2.30" fill="#c1002b"/>
<rect x="276.15" y="400.65" width="2.30" height="2.30" fill="#c1002b"/>
<rect x="287.95" y="393.55" width="2.30" height="2.30" fill="#c1002b"/>
<rect x="183.30" y="429.30" width="2.20" height="2.20" fill="#c1002b"/>
<text x="238.50" y="353.94" font-size="7.05" text-anchor="middle">MM1.S</text>
<text x="187.10" y="366.35" font-size="4.3" fill="#222" style="stroke-width:0.01px">ED75</text>
<text x="187.10" y="371.55" font-size="4.3" fill="#222" style="stroke-width:0.01px">CI: 0.31</text>
<text x="164.10" y="394.70" font-size="6.4" text-anchor="middle" transform="rotate(-90 164.10 394.70)" textLength="48" lengthAdjust="spacingAndGlyphs" style="stroke-width:0.22px">% specific cell death</text>
<text x="238.50" y="466.18" font-size="6.6" text-anchor="middle" textLength="56.8" lengthAdjust="spacingAndGlyphs" style="stroke-width:0.2px">[MK2206/S63845 (nM)]</text>
<line x1="326.10" y1="359.00" x2="326.10" y2="431.15" stroke="#000" stroke-width="1.3"/>
<line x1="325.45" y1="430.50" x2="433.00" y2="430.50" stroke="#000" stroke-width="1.3"/>
<line x1="322.70" y1="430.50" x2="326.10" y2="430.50" stroke="#000" stroke-width="0.9"/>
<text x="319.50" y="432.44" font-size="5.4" text-anchor="end">0</text>
<line x1="322.70" y1="396.25" x2="326.10" y2="396.25" stroke="#000" stroke-width="0.9"/>
<text x="319.50" y="398.19" font-size="5.4" text-anchor="end">50</text>
<line x1="322.70" y1="362.00" x2="326.10" y2="362.00" stroke="#000" stroke-width="0.9"/>
<text x="319.50" y="363.94" font-size="5.4" text-anchor="end">100</text>
<line x1="344.90" y1="430.50" x2="344.90" y2="433.50" stroke="#000" stroke-width="0.9"/>
<text x="347.10" y="438.60" font-size="5.1" text-anchor="end" transform="rotate(-45 347.10 438.60)">25/0.97</text>
<line x1="364.10" y1="430.50" x2="364.10" y2="433.50" stroke="#000" stroke-width="0.9"/>
<text x="366.30" y="438.60" font-size="5.1" text-anchor="end" transform="rotate(-45 366.30 438.60)">50/1.95</text>
<line x1="383.40" y1="430.50" x2="383.40" y2="433.50" stroke="#000" stroke-width="0.9"/>
<text x="385.60" y="438.60" font-size="5.1" text-anchor="end" transform="rotate(-45 385.60 438.60)">100/3.90</text>
<line x1="402.20" y1="430.50" x2="402.20" y2="433.50" stroke="#000" stroke-width="0.9"/>
<text x="404.40" y="438.60" font-size="5.1" text-anchor="end" transform="rotate(-45 404.40 438.60)">200/7.81</text>
<line x1="411.70" y1="430.50" x2="411.70" y2="433.50" stroke="#000" stroke-width="0.9"/>
<text x="413.90" y="438.60" font-size="5.1" text-anchor="end" transform="rotate(-45 413.90 438.60)">300/11.72</text>
<line x1="421.70" y1="430.50" x2="421.70" y2="433.50" stroke="#000" stroke-width="0.9"/>
<text x="423.90" y="438.60" font-size="5.1" text-anchor="end" transform="rotate(-45 423.90 438.60)">400/15.62</text>
<line x1="430.50" y1="430.50" x2="430.50" y2="433.50" stroke="#000" stroke-width="0.9"/>
<text x="432.70" y="438.60" font-size="5.1" text-anchor="end" transform="rotate(-45 432.70 438.60)">600/23.49</text>
<path d="M326.10,428.88 C326.70,428.69 327.30,428.48 327.90,428.32 C328.90,428.05 329.90,427.87 330.90,427.61 C331.90,427.34 332.90,427.03 333.90,426.69 C334.90,426.35 335.90,425.96 336.90,425.52 C337.90,425.09 338.90,424.59 339.90,424.05 C340.90,423.51 341.90,422.89 342.90,422.22 C343.90,421.54 344.90,420.78 345.90,419.96 C346.90,419.14 347.90,418.22 348.90,417.24 C349.90,416.26 350.90,415.17 351.90,414.03 C352.90,412.88 353.90,411.63 354.90,410.33 C355.90,409.02 356.90,407.62 357.90,406.19 C358.90,404.75 359.90,403.23 360.90,401.71 C361.90,400.18 362.90,398.59 363.90,397.03 C364.90,395.46 365.90,393.86 366.90,392.31 C367.90,390.76 368.90,389.21 369.90,387.73 C370.90,386.25 371.90,384.80 372.90,383.44 C373.90,382.09 374.90,380.77 375.90,379.56 C376.90,378.35 377.90,377.20 378.90,376.15 C379.90,375.11 380.90,374.13 381.90,373.24 C382.90,372.36 383.90,371.54 384.90,370.81 C385.90,370.08 386.90,369.41 387.90,368.81 C388.90,368.22 389.90,367.68 390.90,367.21 C391.90,366.73 392.90,366.30 393.90,365.93 C394.90,365.55 395.90,365.21 396.90,364.92 C397.90,364.62 398.90,364.36 399.90,364.13 C400.90,363.90 401.90,363.69 402.90,363.52 C403.90,363.34 404.90,363.18 405.90,363.04 C406.90,362.90 407.90,362.78 408.90,362.68 C409.90,362.57 410.90,362.48 411.90,362.40 C412.90,362.32 413.90,362.24 414.90,362.18 C415.90,362.12 416.90,362.07 417.90,362.02 C418.90,361.97 419.90,361.93 420.90,361.89 C421.90,361.86 422.90,361.82 423.90,361.80 C424.90,361.77 425.90,361.74 426.90,361.72 C427.90,361.70 428.90,361.68 429.90,361.67 C430.10,361.66 430.30,361.66 430.50,361.66" fill="none" stroke="#1f3e8a" stroke-width="1.3" stroke-linecap="round"/>
<polygon points="343.60,420.30 346.20,420.30 344.90,422.60" fill="#1f3e8a"/>
<polygon points="362.80,397.30 365.40,397.30 364.10,399.60" fill="#1f3e8a"/>
<polygon points="382.10,368.80 384.70,368.80 383.40,371.10" fill="#1f3e8a"/>
<polygon points="400.90,362.00 403.50,362.00 402.20,364.30" fill="#1f3e8a"/>
<polygon points="410.40,361.20 413.00,361.20 411.70,363.50" fill="#1f3e8a"/>
<polygon points="420.40,361.00 423.00,361.00 421.70,363.30" fill="#1f3e8a"/>
<polygon points="429.20,360.80 431.80,360.80 430.50,363.10" fill="#1f3e8a"/>
<path d="M326.10,429.32 C326.70,429.21 327.30,429.09 327.90,428.99 C328.90,428.84 329.90,428.74 330.90,428.60 C331.90,428.46 332.90,428.30 333.90,428.13 C334.90,427.95 335.90,427.77 336.90,427.56 C337.90,427.36 338.90,427.13 339.90,426.89 C340.90,426.65 341.90,426.38 342.90,426.09 C343.90,425.80 344.90,425.49 345.90,425.15 C346.90,424.81 347.90,424.43 348.90,424.04 C349.90,423.64 350.90,423.20 351.90,422.74 C352.90,422.27 353.90,421.77 354.90,421.23 C355.90,420.70 356.90,420.12 357.90,419.50 C358.90,418.88 359.90,418.22 360.90,417.53 C361.90,416.83 362.90,416.08 363.90,415.30 C364.90,414.52 365.90,413.68 366.90,412.82 C367.90,411.95 368.90,411.04 369.90,410.09 C370.90,409.15 371.90,408.15 372.90,407.14 C373.90,406.13 374.90,405.07 375.90,404.00 C376.90,402.92 377.90,401.82 378.90,400.70 C379.90,399.59 380.90,398.45 381.90,397.32 C382.90,396.18 383.90,395.03 384.90,393.90 C385.90,392.77 386.90,391.63 387.90,390.51 C388.90,389.40 389.90,388.29 390.90,387.22 C391.90,386.15 392.90,385.09 393.90,384.07 C394.90,383.06 395.90,382.06 396.90,381.12 C397.90,380.17 398.90,379.25 399.90,378.38 C400.90,377.52 401.90,376.68 402.90,375.90 C403.90,375.12 404.90,374.37 405.90,373.67 C406.90,372.97 407.90,372.30 408.90,371.69 C409.90,371.07 410.90,370.49 411.90,369.95 C412.90,369.41 413.90,368.91 414.90,368.44 C415.90,367.97 416.90,367.54 417.90,367.14 C418.90,366.74 419.90,366.37 420.90,366.02 C421.90,365.68 422.90,365.37 423.90,365.08 C424.90,364.79 425.90,364.52 426.90,364.28 C427.90,364.03 428.90,363.81 429.90,363.60 C430.10,363.56 430.30,363.52 430.50,363.48" fill="none" stroke="#6ab536" stroke-width="1.3" stroke-linecap="round"/>
<polygon points="343.60,426.00 346.20,426.00 344.90,423.70" fill="#6ab536"/>
<polygon points="362.80,415.60 365.40,415.60 364.10,413.30" fill="#6ab536"/>
<polygon points="382.10,396.10 384.70,396.10 383.40,393.80" fill="#6ab536"/>
<polygon points="400.90,377.30 403.50,377.30 402.20,375.00" fill="#6ab536"/>
<polygon points="410.40,370.70 413.00,370.70 411.70,368.40" fill="#6ab536"/>
<polygon points="420.40,366.30 423.00,366.30 421.70,364.00" fill="#6ab536"/>
<polygon points="429.20,364.00 431.80,364.00 430.50,361.70" fill="#6ab536"/>
<path d="M326.10,429.80 C326.70,429.73 327.30,429.64 327.90,429.57 C328.90,429.46 329.90,429.39 330.90,429.29 C331.90,429.19 332.90,429.07 333.90,428.95 C334.90,428.82 335.90,428.69 336.90,428.54 C337.90,428.39 338.90,428.23 339.90,428.05 C340.90,427.87 341.90,427.67 342.90,427.46 C343.90,427.25 344.90,427.01 345.90,426.76 C346.90,426.50 347.90,426.22 348.90,425.92 C349.90,425.62 350.90,425.29 351.90,424.93 C352.90,424.58 353.90,424.19 354.90,423.77 C355.90,423.35 356.90,422.90 357.90,422.41 C358.90,421.92 359.90,421.39 360.90,420.83 C361.90,420.27 362.90,419.66 363.90,419.02 C364.90,418.37 365.90,417.68 366.90,416.95 C367.90,416.22 368.90,415.44 369.90,414.63 C370.90,413.81 371.90,412.94 372.90,412.04 C373.90,411.14 374.90,410.19 375.90,409.22 C376.90,408.24 377.90,407.21 378.90,406.17 C379.90,405.12 380.90,404.04 381.90,402.94 C382.90,401.84 383.90,400.71 384.90,399.58 C385.90,398.44 386.90,397.29 387.90,396.14 C388.90,395.00 389.90,393.84 390.90,392.70 C391.90,391.57 392.90,390.43 393.90,389.32 C394.90,388.21 395.90,387.12 396.90,386.06 C397.90,385.00 398.90,383.96 399.90,382.97 C400.90,381.97 401.90,381.01 402.90,380.09 C403.90,379.17 404.90,378.29 405.90,377.45 C406.90,376.62 407.90,375.82 408.90,375.07 C409.90,374.33 410.90,373.61 411.90,372.95 C412.90,372.29 413.90,371.66 414.90,371.09 C415.90,370.51 416.90,369.96 417.90,369.46 C418.90,368.96 419.90,368.49 420.90,368.05 C421.90,367.62 422.90,367.22 423.90,366.85 C424.90,366.48 425.90,366.14 426.90,365.83 C427.90,365.51 428.90,365.23 429.90,364.96 C430.10,364.91 430.30,364.86 430.50,364.80" fill="none" stroke="#c1002b" stroke-width="1.3" stroke-linecap="round"/>
<rect x="343.75" y="424.95" width="2.30" height="2.30" fill="#c1002b"/>
<rect x="362.95" y="417.15" width="2.30" height="2.30" fill="#c1002b"/>
<rect x="382.25" y="399.95" width="2.30" height="2.30" fill="#c1002b"/>
<rect x="401.05" y="379.55" width="2.30" height="2.30" fill="#c1002b"/>
<rect x="410.55" y="370.75" width="2.30" height="2.30" fill="#c1002b"/>
<rect x="420.55" y="366.35" width="2.30" height="2.30" fill="#c1002b"/>
<rect x="429.35" y="363.45" width="2.30" height="2.30" fill="#c1002b"/>
<rect x="325.00" y="429.30" width="2.20" height="2.20" fill="#c1002b"/>
<line x1="344.90" y1="417.80" x2="344.90" y2="423.30" stroke="#000" stroke-width="0.7"/>
<line x1="343.70" y1="417.80" x2="346.10" y2="417.80" stroke="#000" stroke-width="0.7"/>
<line x1="343.70" y1="423.30" x2="346.10" y2="423.30" stroke="#000" stroke-width="0.7"/>
<line x1="364.10" y1="395.30" x2="364.10" y2="400.80" stroke="#000" stroke-width="0.7"/>
<line x1="362.90" y1="395.30" x2="365.30" y2="395.30" stroke="#000" stroke-width="0.7"/>
<line x1="362.90" y1="400.80" x2="365.30" y2="400.80" stroke="#000" stroke-width="0.7"/>
<line x1="383.40" y1="398.80" x2="383.40" y2="404.80" stroke="#000" stroke-width="0.7"/>
<line x1="382.20" y1="398.80" x2="384.60" y2="398.80" stroke="#000" stroke-width="0.7"/>
<line x1="382.20" y1="404.80" x2="384.60" y2="404.80" stroke="#000" stroke-width="0.7"/>
<line x1="364.10" y1="416.30" x2="364.10" y2="420.30" stroke="#000" stroke-width="0.7"/>
<line x1="362.90" y1="416.30" x2="365.30" y2="416.30" stroke="#000" stroke-width="0.7"/>
<line x1="362.90" y1="420.30" x2="365.30" y2="420.30" stroke="#000" stroke-width="0.7"/>
<line x1="402.20" y1="378.30" x2="402.20" y2="383.80" stroke="#000" stroke-width="0.7"/>
<line x1="401.00" y1="378.30" x2="403.40" y2="378.30" stroke="#000" stroke-width="0.7"/>
<line x1="401.00" y1="383.80" x2="403.40" y2="383.80" stroke="#000" stroke-width="0.7"/>
<text x="381.00" y="353.94" font-size="7.05" text-anchor="middle">XG-3</text>
<text x="328.80" y="366.35" font-size="4.3" fill="#222" style="stroke-width:0.01px">ED75</text>
<text x="328.80" y="371.55" font-size="4.3" fill="#222" style="stroke-width:0.01px">CI: 0.43</text>
<text x="305.80" y="394.70" font-size="6.4" text-anchor="middle" transform="rotate(-90 305.80 394.70)" textLength="48" lengthAdjust="spacingAndGlyphs" style="stroke-width:0.22px">% specific cell death</text>
<text x="381.00" y="466.18" font-size="6.6" text-anchor="middle" textLength="56.8" lengthAdjust="spacingAndGlyphs" style="stroke-width:0.2px">[MK2206/S63845 (nM)]</text>
<line x1="42.50" y1="486.05" x2="42.50" y2="558.20" stroke="#000" stroke-width="1.3"/>
<line x1="41.85" y1="557.55" x2="149.50" y2="557.55" stroke="#000" stroke-width="1.3"/>
<line x1="39.10" y1="557.55" x2="42.50" y2="557.55" stroke="#000" stroke-width="0.9"/>
<text x="35.90" y="559.49" font-size="5.4" text-anchor="end">0</text>
<line x1="39.10" y1="523.30" x2="42.50" y2="523.30" stroke="#000" stroke-width="0.9"/>
<text x="35.90" y="525.24" font-size="5.4" text-anchor="end">50</text>
<line x1="39.10" y1="489.05" x2="42.50" y2="489.05" stroke="#000" stroke-width="0.9"/>
<text x="35.90" y="490.99" font-size="5.4" text-anchor="end">100</text>
<line x1="57.10" y1="557.55" x2="57.10" y2="560.55" stroke="#000" stroke-width="0.9"/>
<text x="59.30" y="565.65" font-size="5.1" text-anchor="end" transform="rotate(-45 59.30 565.65)">100/3.9</text>
<line x1="72.20" y1="557.55" x2="72.20" y2="560.55" stroke="#000" stroke-width="0.9"/>
<text x="74.40" y="565.65" font-size="5.1" text-anchor="end" transform="rotate(-45 74.40 565.65)">200/7.81</text>
<line x1="87.10" y1="557.55" x2="87.10" y2="560.55" stroke="#000" stroke-width="0.9"/>
<text x="89.30" y="565.65" font-size="5.1" text-anchor="end" transform="rotate(-45 89.30 565.65)">400/15.62</text>
<line x1="102.10" y1="557.55" x2="102.10" y2="560.55" stroke="#000" stroke-width="0.9"/>
<text x="104.30" y="565.65" font-size="5.1" text-anchor="end" transform="rotate(-45 104.30 565.65)">800/31.25</text>
<line x1="117.00" y1="557.55" x2="117.00" y2="560.55" stroke="#000" stroke-width="0.9"/>
<text x="119.20" y="565.65" font-size="5.1" text-anchor="end" transform="rotate(-45 119.20 565.65)">1600/62.5</text>
<line x1="132.00" y1="557.55" x2="132.00" y2="560.55" stroke="#000" stroke-width="0.9"/>
<text x="134.20" y="565.65" font-size="5.1" text-anchor="end" transform="rotate(-45 134.20 565.65)">3200/125</text>
<line x1="146.90" y1="557.55" x2="146.90" y2="560.55" stroke="#000" stroke-width="0.9"/>
<text x="149.10" y="565.65" font-size="5.1" text-anchor="end" transform="rotate(-45 149.10 565.65)">6400/250</text>
<path d="M42.50,557.36 C43.27,557.32 44.03,557.29 44.80,557.26 C45.80,557.22 46.80,557.18 47.80,557.14 C48.80,557.09 49.80,557.04 50.80,556.98 C51.80,556.93 52.80,556.86 53.80,556.79 C54.80,556.71 55.80,556.63 56.80,556.54 C57.80,556.44 58.80,556.34 59.80,556.22 C60.80,556.10 61.80,555.97 62.80,555.82 C63.80,555.67 64.80,555.50 65.80,555.31 C66.80,555.12 67.80,554.91 68.80,554.68 C69.80,554.44 70.80,554.17 71.80,553.88 C72.80,553.58 73.80,553.25 74.80,552.88 C75.80,552.52 76.80,552.11 77.80,551.66 C78.80,551.21 79.80,550.70 80.80,550.15 C81.80,549.60 82.80,548.99 83.80,548.32 C84.80,547.66 85.80,546.92 86.80,546.13 C87.80,545.34 88.80,544.47 89.80,543.54 C90.80,542.62 91.80,541.61 92.80,540.54 C93.80,539.48 94.80,538.33 95.80,537.13 C96.80,535.93 97.80,534.65 98.80,533.34 C99.80,532.03 100.80,530.64 101.80,529.24 C102.80,527.84 103.80,526.38 104.80,524.93 C105.80,523.48 106.80,521.99 107.80,520.52 C108.80,519.06 109.80,517.58 110.80,516.15 C111.80,514.73 112.80,513.30 113.80,511.95 C114.80,510.59 115.80,509.26 116.80,508.01 C117.80,506.76 118.80,505.56 119.80,504.43 C120.80,503.31 121.80,502.23 122.80,501.25 C123.80,500.26 124.80,499.33 125.80,498.48 C126.80,497.63 127.80,496.83 128.80,496.12 C129.80,495.40 130.80,494.73 131.80,494.13 C132.80,493.53 133.80,492.98 134.80,492.49 C135.80,492.00 136.80,491.55 137.80,491.14 C138.80,490.74 139.80,490.38 140.80,490.05 C141.80,489.73 142.80,489.43 143.80,489.17 C144.80,488.91 145.80,488.69 146.80,488.47 C146.83,488.46 146.87,488.46 146.90,488.45" fill="none" stroke="#1f3e8a" stroke-width="1.3" stroke-linecap="round"/>
<polygon points="55.80,555.70 58.40,555.70 57.10,558.00" fill="#1f3e8a"/>
<polygon points="70.90,552.60 73.50,552.60 72.20,554.90" fill="#1f3e8a"/>
<polygon points="85.80,543.40 88.40,543.40 87.10,545.70" fill="#1f3e8a"/>
<polygon points="100.80,527.90 103.40,527.90 102.10,530.20" fill="#1f3e8a"/>
<polygon points="115.70,506.80 118.30,506.80 117.00,509.10" fill="#1f3e8a"/>
<polygon points="130.70,489.10 133.30,489.10 132.00,491.40" fill="#1f3e8a"/>
<polygon points="145.60,488.70 148.20,488.70 146.90,491.00" fill="#1f3e8a"/>
<path d="M42.50,557.59 C43.27,557.58 44.03,557.57 44.80,557.56 C45.80,557.55 46.80,557.53 47.80,557.52 C48.80,557.51 49.80,557.49 50.80,557.47 C51.80,557.45 52.80,557.43 53.80,557.40 C54.80,557.38 55.80,557.35 56.80,557.32 C57.80,557.29 58.80,557.25 59.80,557.21 C60.80,557.18 61.80,557.13 62.80,557.08 C63.80,557.03 64.80,556.97 65.80,556.91 C66.80,556.84 67.80,556.77 68.80,556.68 C69.80,556.60 70.80,556.51 71.80,556.40 C72.80,556.30 73.80,556.18 74.80,556.05 C75.80,555.91 76.80,555.76 77.80,555.59 C78.80,555.42 79.80,555.23 80.80,555.02 C81.80,554.81 82.80,554.57 83.80,554.30 C84.80,554.03 85.80,553.73 86.80,553.40 C87.80,553.07 88.80,552.69 89.80,552.28 C90.80,551.87 91.80,551.41 92.80,550.90 C93.80,550.40 94.80,549.83 95.80,549.22 C96.80,548.60 97.80,547.92 98.80,547.18 C99.80,546.45 100.80,545.63 101.80,544.77 C102.80,543.90 103.80,542.95 104.80,541.94 C105.80,540.94 106.80,539.85 107.80,538.71 C108.80,537.57 109.80,536.35 110.80,535.10 C111.80,533.84 112.80,532.51 113.80,531.15 C114.80,529.80 115.80,528.39 116.80,526.98 C117.80,525.56 118.80,524.11 119.80,522.68 C120.80,521.25 121.80,519.80 122.80,518.39 C123.80,516.99 124.80,515.58 125.80,514.24 C126.80,512.90 127.80,511.59 128.80,510.35 C129.80,509.11 130.80,507.91 131.80,506.79 C132.80,505.67 133.80,504.60 134.80,503.62 C135.80,502.63 136.80,501.70 137.80,500.86 C138.80,500.01 139.80,499.22 140.80,498.50 C141.80,497.78 142.80,497.12 143.80,496.52 C144.80,495.93 145.80,495.40 146.80,494.89 C146.83,494.87 146.87,494.86 146.90,494.84" fill="none" stroke="#6ab536" stroke-width="1.3" stroke-linecap="round"/>
<polygon points="55.80,558.60 58.40,558.60 57.10,556.30" fill="#6ab536"/>
<polygon points="70.90,558.00 73.50,558.00 72.20,555.70" fill="#6ab536"/>
<polygon points="85.80,554.60 88.40,554.60 87.10,552.30" fill="#6ab536"/>
<polygon points="100.80,544.90 103.40,544.90 102.10,542.60" fill="#6ab536"/>
<polygon points="115.70,527.60 118.30,527.60 117.00,525.30" fill="#6ab536"/>
<polygon points="130.70,507.70 133.30,507.70 132.00,505.40" fill="#6ab536"/>
<polygon points="145.60,495.60 148.20,495.60 146.90,493.30" fill="#6ab536"/>
<path d="M42.50,557.63 C43.27,557.63 44.03,557.62 44.80,557.62 C45.80,557.62 46.80,557.61 47.80,557.61 C48.80,557.60 49.80,557.60 50.80,557.59 C51.80,557.58 52.80,557.58 53.80,557.57 C54.80,557.56 55.80,557.56 56.80,557.55 C57.80,557.54 58.80,557.53 59.80,557.52 C60.80,557.51 61.80,557.50 62.80,557.49 C63.80,557.48 64.80,557.47 65.80,557.45 C66.80,557.44 67.80,557.43 68.80,557.41 C69.80,557.39 70.80,557.38 71.80,557.36 C72.80,557.34 73.80,557.32 74.80,557.30 C75.80,557.28 76.80,557.26 77.80,557.23 C78.80,557.21 79.80,557.18 80.80,557.15 C81.80,557.12 82.80,557.09 83.80,557.06 C84.80,557.02 85.80,556.99 86.80,556.95 C87.80,556.91 88.80,556.86 89.80,556.82 C90.80,556.77 91.80,556.72 92.80,556.67 C93.80,556.62 94.80,556.56 95.80,556.50 C96.80,556.44 97.80,556.37 98.80,556.30 C99.80,556.23 100.80,556.15 101.80,556.07 C102.80,555.99 103.80,555.90 104.80,555.80 C105.80,555.71 106.80,555.61 107.80,555.50 C108.80,555.40 109.80,555.28 110.80,555.16 C111.80,555.04 112.80,554.91 113.80,554.77 C114.80,554.63 115.80,554.49 116.80,554.33 C117.80,554.18 118.80,554.01 119.80,553.84 C120.80,553.67 121.80,553.49 122.80,553.30 C123.80,553.11 124.80,552.90 125.80,552.70 C126.80,552.49 127.80,552.27 128.80,552.04 C129.80,551.81 130.80,551.57 131.80,551.33 C132.80,551.09 133.80,550.83 134.80,550.57 C135.80,550.31 136.80,550.04 137.80,549.77 C138.80,549.50 139.80,549.21 140.80,548.93 C141.80,548.65 142.80,548.36 143.80,548.06 C144.80,547.77 145.80,547.48 146.80,547.18 C146.83,547.17 146.87,547.16 146.90,547.15" fill="none" stroke="#c1002b" stroke-width="1.3" stroke-linecap="round"/>
<rect x="55.95" y="556.45" width="2.30" height="2.30" fill="#c1002b"/>
<rect x="71.05" y="556.25" width="2.30" height="2.30" fill="#c1002b"/>
<rect x="85.95" y="555.85" width="2.30" height="2.30" fill="#c1002b"/>
<rect x="100.95" y="554.75" width="2.30" height="2.30" fill="#c1002b"/>
<rect x="115.85" y="552.75" width="2.30" height="2.30" fill="#c1002b"/>
<rect x="130.85" y="550.25" width="2.30" height="2.30" fill="#c1002b"/>
<rect x="145.75" y="545.85" width="2.30" height="2.30" fill="#c1002b"/>
<rect x="41.40" y="556.35" width="2.20" height="2.20" fill="#c1002b"/>
<text x="96.00" y="480.99" font-size="7.05" text-anchor="middle">UM-3</text>
<text x="45.20" y="493.40" font-size="4.3" fill="#222" style="stroke-width:0.01px">ED75</text>
<text x="45.20" y="498.60" font-size="4.3" fill="#222" style="stroke-width:0.01px">CI: 0.51</text>
<text x="22.20" y="521.75" font-size="6.4" text-anchor="middle" transform="rotate(-90 22.20 521.75)" textLength="48" lengthAdjust="spacingAndGlyphs" style="stroke-width:0.22px">% specific cell death</text>
<text x="96.00" y="593.23" font-size="6.6" text-anchor="middle" textLength="56.8" lengthAdjust="spacingAndGlyphs" style="stroke-width:0.2px">[MK2206/S63845 (nM)]</text>
<line x1="184.40" y1="486.05" x2="184.40" y2="558.20" stroke="#000" stroke-width="1.3"/>
<line x1="183.75" y1="557.55" x2="291.00" y2="557.55" stroke="#000" stroke-width="1.3"/>
<line x1="181.00" y1="557.55" x2="184.40" y2="557.55" stroke="#000" stroke-width="0.9"/>
<text x="177.80" y="559.49" font-size="5.4" text-anchor="end">0</text>
<line x1="181.00" y1="523.30" x2="184.40" y2="523.30" stroke="#000" stroke-width="0.9"/>
<text x="177.80" y="525.24" font-size="5.4" text-anchor="end">50</text>
<line x1="181.00" y1="489.05" x2="184.40" y2="489.05" stroke="#000" stroke-width="0.9"/>
<text x="177.80" y="490.99" font-size="5.4" text-anchor="end">100</text>
<line x1="199.20" y1="557.55" x2="199.20" y2="560.55" stroke="#000" stroke-width="0.9"/>
<text x="201.40" y="565.65" font-size="5.1" text-anchor="end" transform="rotate(-45 201.40 565.65)">100/3.9</text>
<line x1="214.30" y1="557.55" x2="214.30" y2="560.55" stroke="#000" stroke-width="0.9"/>
<text x="216.50" y="565.65" font-size="5.1" text-anchor="end" transform="rotate(-45 216.50 565.65)">200/7.81</text>
<line x1="229.10" y1="557.55" x2="229.10" y2="560.55" stroke="#000" stroke-width="0.9"/>
<text x="231.30" y="565.65" font-size="5.1" text-anchor="end" transform="rotate(-45 231.30 565.65)">400/15.62</text>
<line x1="244.20" y1="557.55" x2="244.20" y2="560.55" stroke="#000" stroke-width="0.9"/>
<text x="246.40" y="565.65" font-size="5.1" text-anchor="end" transform="rotate(-45 246.40 565.65)">800/31.25</text>
<line x1="259.00" y1="557.55" x2="259.00" y2="560.55" stroke="#000" stroke-width="0.9"/>
<text x="261.20" y="565.65" font-size="5.1" text-anchor="end" transform="rotate(-45 261.20 565.65)">1600/62.5</text>
<line x1="274.00" y1="557.55" x2="274.00" y2="560.55" stroke="#000" stroke-width="0.9"/>
<text x="276.20" y="565.65" font-size="5.1" text-anchor="end" transform="rotate(-45 276.20 565.65)">3200/125</text>
<line x1="288.80" y1="557.55" x2="288.80" y2="560.55" stroke="#000" stroke-width="0.9"/>
<text x="291.00" y="565.65" font-size="5.1" text-anchor="end" transform="rotate(-45 291.00 565.65)">6400/250</text>
<path d="M184.40,557.40 C185.13,557.36 185.87,557.32 186.60,557.29 C187.60,557.23 188.60,557.19 189.60,557.13 C190.60,557.06 191.60,556.99 192.60,556.90 C193.60,556.82 194.60,556.72 195.60,556.60 C196.60,556.48 197.60,556.34 198.60,556.18 C199.60,556.02 200.60,555.82 201.60,555.60 C202.60,555.38 203.60,555.12 204.60,554.82 C205.60,554.52 206.60,554.16 207.60,553.76 C208.60,553.35 209.60,552.88 210.60,552.34 C211.60,551.80 212.60,551.17 213.60,550.47 C214.60,549.76 215.60,548.95 216.60,548.04 C217.60,547.14 218.60,546.10 219.60,544.97 C220.60,543.84 221.60,542.56 222.60,541.20 C223.60,539.83 224.60,538.31 225.60,536.72 C226.60,535.13 227.60,533.40 228.60,531.63 C229.60,529.87 230.60,527.98 231.60,526.12 C232.60,524.26 233.60,522.32 234.60,520.46 C235.60,518.60 236.60,516.71 237.60,514.95 C238.60,513.18 239.60,511.44 240.60,509.85 C241.60,508.25 242.60,506.73 243.60,505.36 C244.60,503.99 245.60,502.70 246.60,501.57 C247.60,500.43 248.60,499.39 249.60,498.48 C250.60,497.57 251.60,496.75 252.60,496.04 C253.60,495.34 254.60,494.70 255.60,494.16 C256.60,493.62 257.60,493.14 258.60,492.74 C259.60,492.33 260.60,491.97 261.60,491.67 C262.60,491.37 263.60,491.10 264.60,490.88 C265.60,490.66 266.60,490.47 267.60,490.30 C268.60,490.14 269.60,490.00 270.60,489.88 C271.60,489.76 272.60,489.66 273.60,489.57 C274.60,489.49 275.60,489.41 276.60,489.35 C277.60,489.29 278.60,489.23 279.60,489.19 C280.60,489.14 281.60,489.10 282.60,489.07 C283.60,489.04 284.60,489.01 285.60,488.99 C286.60,488.96 287.60,488.94 288.60,488.93 C288.67,488.92 288.73,488.92 288.80,488.92" fill="none" stroke="#1f3e8a" stroke-width="1.3" stroke-linecap="round"/>
<polygon points="197.90,553.90 200.50,553.90 199.20,556.20" fill="#1f3e8a"/>
<polygon points="213.00,548.90 215.60,548.90 214.30,551.20" fill="#1f3e8a"/>
<polygon points="227.80,529.60 230.40,529.60 229.10,531.90" fill="#1f3e8a"/>
<polygon points="242.90,503.50 245.50,503.50 244.20,505.80" fill="#1f3e8a"/>
<polygon points="257.70,489.20 260.30,489.20 259.00,491.50" fill="#1f3e8a"/>
<polygon points="272.70,488.90 275.30,488.90 274.00,491.20" fill="#1f3e8a"/>
<polygon points="287.50,488.20 290.10,488.20 288.80,490.50" fill="#1f3e8a"/>
<path d="M184.40,557.35 C185.13,557.31 185.87,557.27 186.60,557.23 C187.60,557.17 188.60,557.13 189.60,557.07 C190.60,557.01 191.60,556.95 192.60,556.87 C193.60,556.80 194.60,556.72 195.60,556.62 C196.60,556.53 197.60,556.42 198.60,556.31 C199.60,556.19 200.60,556.05 201.60,555.91 C202.60,555.76 203.60,555.59 204.60,555.40 C205.60,555.22 206.60,555.01 207.60,554.77 C208.60,554.54 209.60,554.28 210.60,553.98 C211.60,553.69 212.60,553.37 213.60,553.01 C214.60,552.65 215.60,552.25 216.60,551.80 C217.60,551.36 218.60,550.87 219.60,550.33 C220.60,549.80 221.60,549.20 222.60,548.55 C223.60,547.91 224.60,547.19 225.60,546.43 C226.60,545.66 227.60,544.82 228.60,543.93 C229.60,543.03 230.60,542.06 231.60,541.03 C232.60,540.01 233.60,538.90 234.60,537.75 C235.60,536.61 236.60,535.38 237.60,534.12 C238.60,532.87 239.60,531.54 240.60,530.20 C241.60,528.86 242.60,527.47 243.60,526.08 C244.60,524.69 245.60,523.27 246.60,521.87 C247.60,520.48 248.60,519.07 249.60,517.70 C250.60,516.34 251.60,514.98 252.60,513.68 C253.60,512.39 254.60,511.12 255.60,509.92 C256.60,508.72 257.60,507.57 258.60,506.49 C259.60,505.41 260.60,504.38 261.60,503.43 C262.60,502.48 263.60,501.58 264.60,500.77 C265.60,499.95 266.60,499.18 267.60,498.48 C268.60,497.79 269.60,497.15 270.60,496.56 C271.60,495.98 272.60,495.45 273.60,494.97 C274.60,494.49 275.60,494.05 276.60,493.66 C277.60,493.27 278.60,492.91 279.60,492.59 C280.60,492.27 281.60,491.98 282.60,491.73 C283.60,491.47 284.60,491.24 285.60,491.04 C286.60,490.83 287.60,490.65 288.60,490.48 C288.67,490.47 288.73,490.46 288.80,490.45" fill="none" stroke="#6ab536" stroke-width="1.3" stroke-linecap="round"/>
<polygon points="197.90,557.30 200.50,557.30 199.20,555.00" fill="#6ab536"/>
<polygon points="213.00,553.10 215.60,553.10 214.30,550.80" fill="#6ab536"/>
<polygon points="227.80,544.90 230.40,544.90 229.10,542.60" fill="#6ab536"/>
<polygon points="242.90,525.40 245.50,525.40 244.20,523.10" fill="#6ab536"/>
<polygon points="257.70,507.30 260.30,507.30 259.00,505.00" fill="#6ab536"/>
<polygon points="272.70,495.60 275.30,495.60 274.00,493.30" fill="#6ab536"/>
<polygon points="287.50,491.10 290.10,491.10 288.80,488.80" fill="#6ab536"/>
<path d="M184.40,557.65 C185.13,557.65 185.87,557.65 186.60,557.64 C187.60,557.64 188.60,557.64 189.60,557.64 C190.60,557.63 191.60,557.63 192.60,557.63 C193.60,557.62 194.60,557.62 195.60,557.62 C196.60,557.61 197.60,557.61 198.60,557.61 C199.60,557.60 200.60,557.60 201.60,557.59 C202.60,557.59 203.60,557.58 204.60,557.58 C205.60,557.57 206.60,557.57 207.60,557.56 C208.60,557.55 209.60,557.55 210.60,557.54 C211.60,557.53 212.60,557.53 213.60,557.52 C214.60,557.51 215.60,557.50 216.60,557.49 C217.60,557.48 218.60,557.47 219.60,557.46 C220.60,557.45 221.60,557.44 222.60,557.43 C223.60,557.42 224.60,557.41 225.60,557.39 C226.60,557.38 227.60,557.37 228.60,557.35 C229.60,557.34 230.60,557.32 231.60,557.30 C232.60,557.28 233.60,557.27 234.60,557.25 C235.60,557.23 236.60,557.20 237.60,557.18 C238.60,557.16 239.60,557.14 240.60,557.11 C241.60,557.08 242.60,557.06 243.60,557.03 C244.60,557.00 245.60,556.97 246.60,556.93 C247.60,556.90 248.60,556.86 249.60,556.82 C250.60,556.79 251.60,556.75 252.60,556.70 C253.60,556.66 254.60,556.61 255.60,556.56 C256.60,556.51 257.60,556.46 258.60,556.40 C259.60,556.35 260.60,556.29 261.60,556.22 C262.60,556.16 263.60,556.09 264.60,556.02 C265.60,555.94 266.60,555.86 267.60,555.78 C268.60,555.70 269.60,555.61 270.60,555.51 C271.60,555.42 272.60,555.32 273.60,555.21 C274.60,555.10 275.60,554.99 276.60,554.87 C277.60,554.74 278.60,554.61 279.60,554.47 C280.60,554.33 281.60,554.19 282.60,554.03 C283.60,553.87 284.60,553.70 285.60,553.52 C286.60,553.34 287.60,553.15 288.60,552.95 C288.67,552.93 288.73,552.92 288.80,552.91" fill="none" stroke="#c1002b" stroke-width="1.3" stroke-linecap="round"/>
<rect x="198.05" y="556.25" width="2.30" height="2.30" fill="#c1002b"/>
<rect x="213.15" y="556.05" width="2.30" height="2.30" fill="#c1002b"/>
<rect x="227.95" y="554.25" width="2.30" height="2.30" fill="#c1002b"/>
<rect x="243.05" y="555.85" width="2.30" height="2.30" fill="#c1002b"/>
<rect x="257.85" y="555.35" width="2.30" height="2.30" fill="#c1002b"/>
<rect x="272.85" y="553.05" width="2.30" height="2.30" fill="#c1002b"/>
<rect x="287.65" y="551.65" width="2.30" height="2.30" fill="#c1002b"/>
<rect x="183.30" y="556.35" width="2.20" height="2.20" fill="#c1002b"/>
<text x="238.80" y="480.99" font-size="7.05" text-anchor="middle">RPMI-8226</text>
<text x="187.10" y="493.40" font-size="4.3" fill="#222" style="stroke-width:0.01px">ED75</text>
<text x="187.10" y="498.60" font-size="4.3" fill="#222" style="stroke-width:0.01px">CI: 0.48</text>
<text x="164.10" y="521.75" font-size="6.4" text-anchor="middle" transform="rotate(-90 164.10 521.75)" textLength="48" lengthAdjust="spacingAndGlyphs" style="stroke-width:0.22px">% specific cell death</text>
<text x="238.80" y="593.23" font-size="6.6" text-anchor="middle" textLength="56.8" lengthAdjust="spacingAndGlyphs" style="stroke-width:0.2px">[MK2206/S63845 (nM)]</text>
<line x1="295.70" y1="488.00" x2="308.20" y2="488.00" stroke="#c1002b" stroke-width="1.5"/>
<rect x="301.00" y="487.00" width="2.00" height="2.00" fill="#c1002b"/>
<text x="311.20" y="489.55" font-size="4.3">MK2206</text>
<line x1="295.70" y1="496.00" x2="308.20" y2="496.00" stroke="#6ab536" stroke-width="1.5"/>
<polygon points="301,496.9 303,496.9 302,495" fill="#6ab536"/>
<text x="311.20" y="497.55" font-size="4.3">MCL1 inh.</text>
<line x1="295.70" y1="504.00" x2="308.20" y2="504.00" stroke="#1f3e8a" stroke-width="1.5"/>
<circle cx="302" cy="504" r="1" fill="#1f3e8a"/>
<text x="311.20" y="505.55" font-size="4.3">MK + MCL1 inh.</text>
<rect x="43.65" y="692.41" width="7.30" height="0.59" fill="#c00a2e"/>
<line x1="47.30" y1="692.41" x2="47.30" y2="691.94" stroke="#000" stroke-width="0.7"/>
<line x1="45.65" y1="691.94" x2="48.95" y2="691.94" stroke="#000" stroke-width="0.8"/>
<rect x="54.95" y="661.86" width="7.30" height="31.14" fill="#6cb33f"/>
<line x1="58.60" y1="661.86" x2="58.60" y2="660.39" stroke="#000" stroke-width="0.7"/>
<line x1="56.95" y1="660.39" x2="60.25" y2="660.39" stroke="#000" stroke-width="0.8"/>
<rect x="66.25" y="634.84" width="7.30" height="58.16" fill="#27478b"/>
<line x1="69.90" y1="634.84" x2="69.90" y2="634.37" stroke="#000" stroke-width="0.7"/>
<line x1="68.25" y1="634.37" x2="71.55" y2="634.37" stroke="#000" stroke-width="0.8"/>
<line x1="42.25" y1="631.50" x2="42.25" y2="693.40" stroke="#000" stroke-width="1.3"/>
<line x1="41.60" y1="692.75" x2="76.25" y2="692.75" stroke="#000" stroke-width="1.3"/>
<line x1="38.45" y1="693.00" x2="42.25" y2="693.00" stroke="#000" stroke-width="0.9"/>
<text x="36.35" y="694.91" font-size="5.3" text-anchor="end">0</text>
<line x1="38.45" y1="681.25" x2="42.25" y2="681.25" stroke="#000" stroke-width="0.9"/>
<text x="36.35" y="683.16" font-size="5.3" text-anchor="end">20</text>
<line x1="38.45" y1="669.50" x2="42.25" y2="669.50" stroke="#000" stroke-width="0.9"/>
<text x="36.35" y="671.41" font-size="5.3" text-anchor="end">40</text>
<line x1="38.45" y1="657.75" x2="42.25" y2="657.75" stroke="#000" stroke-width="0.9"/>
<text x="36.35" y="659.66" font-size="5.3" text-anchor="end">60</text>
<line x1="38.45" y1="646.00" x2="42.25" y2="646.00" stroke="#000" stroke-width="0.9"/>
<text x="36.35" y="647.91" font-size="5.3" text-anchor="end">80</text>
<line x1="38.45" y1="634.25" x2="42.25" y2="634.25" stroke="#000" stroke-width="0.9"/>
<text x="36.35" y="636.16" font-size="5.3" text-anchor="end">100</text>
<text x="59.30" y="617.47" font-size="7.7" text-anchor="middle">AMC</text>
<text x="59.30" y="627.07" font-size="7.7" text-anchor="middle">4389</text>
<text x="21.65" y="662.50" font-size="6.4" text-anchor="middle" transform="rotate(-90 21.65 662.50)" textLength="48" lengthAdjust="spacingAndGlyphs" style="stroke-width:0.22px">% specific cell death</text>
<rect x="111.90" y="665.98" width="7.30" height="27.03" fill="#c00a2e"/>
<line x1="115.55" y1="665.98" x2="115.55" y2="664.21" stroke="#000" stroke-width="0.7"/>
<line x1="113.90" y1="664.21" x2="117.20" y2="664.21" stroke="#000" stroke-width="0.8"/>
<rect x="123.20" y="665.98" width="7.30" height="27.03" fill="#6cb33f"/>
<line x1="126.85" y1="665.98" x2="126.85" y2="663.62" stroke="#000" stroke-width="0.7"/>
<line x1="125.20" y1="663.62" x2="128.50" y2="663.62" stroke="#000" stroke-width="0.8"/>
<rect x="134.50" y="650.70" width="7.30" height="42.30" fill="#27478b"/>
<line x1="138.15" y1="650.70" x2="138.15" y2="649.82" stroke="#000" stroke-width="0.7"/>
<line x1="136.50" y1="649.82" x2="139.80" y2="649.82" stroke="#000" stroke-width="0.8"/>
<line x1="110.50" y1="631.50" x2="110.50" y2="693.40" stroke="#000" stroke-width="1.3"/>
<line x1="109.85" y1="692.75" x2="144.50" y2="692.75" stroke="#000" stroke-width="1.3"/>
<line x1="106.70" y1="693.00" x2="110.50" y2="693.00" stroke="#000" stroke-width="0.9"/>
<text x="104.60" y="694.91" font-size="5.3" text-anchor="end">0</text>
<line x1="106.70" y1="681.25" x2="110.50" y2="681.25" stroke="#000" stroke-width="0.9"/>
<text x="104.60" y="683.16" font-size="5.3" text-anchor="end">20</text>
<line x1="106.70" y1="669.50" x2="110.50" y2="669.50" stroke="#000" stroke-width="0.9"/>
<text x="104.60" y="671.41" font-size="5.3" text-anchor="end">40</text>
<line x1="106.70" y1="657.75" x2="110.50" y2="657.75" stroke="#000" stroke-width="0.9"/>
<text x="104.60" y="659.66" font-size="5.3" text-anchor="end">60</text>
<line x1="106.70" y1="646.00" x2="110.50" y2="646.00" stroke="#000" stroke-width="0.9"/>
<text x="104.60" y="647.91" font-size="5.3" text-anchor="end">80</text>
<line x1="106.70" y1="634.25" x2="110.50" y2="634.25" stroke="#000" stroke-width="0.9"/>
<text x="104.60" y="636.16" font-size="5.3" text-anchor="end">100</text>
<text x="126.80" y="617.47" font-size="7.7" text-anchor="middle">AMC</text>
<text x="126.80" y="627.07" font-size="7.7" text-anchor="middle">1345</text>
<text x="89.90" y="662.50" font-size="6.4" text-anchor="middle" transform="rotate(-90 89.90 662.50)" textLength="48" lengthAdjust="spacingAndGlyphs" style="stroke-width:0.22px">% specific cell death</text>
<rect x="179.40" y="665.39" width="7.30" height="27.61" fill="#c00a2e"/>
<line x1="183.05" y1="665.39" x2="183.05" y2="663.04" stroke="#000" stroke-width="0.7"/>
<line x1="181.40" y1="663.04" x2="184.70" y2="663.04" stroke="#000" stroke-width="0.8"/>
<rect x="190.70" y="666.56" width="7.30" height="26.44" fill="#6cb33f"/>
<line x1="194.35" y1="666.56" x2="194.35" y2="666.21" stroke="#000" stroke-width="0.7"/>
<line x1="192.70" y1="666.21" x2="196.00" y2="666.21" stroke="#000" stroke-width="0.8"/>
<rect x="202.00" y="650.11" width="7.30" height="42.89" fill="#27478b"/>
<line x1="205.65" y1="650.11" x2="205.65" y2="648.35" stroke="#000" stroke-width="0.7"/>
<line x1="204.00" y1="648.35" x2="207.30" y2="648.35" stroke="#000" stroke-width="0.8"/>
<line x1="178.00" y1="631.50" x2="178.00" y2="693.40" stroke="#000" stroke-width="1.3"/>
<line x1="177.35" y1="692.75" x2="212.00" y2="692.75" stroke="#000" stroke-width="1.3"/>
<line x1="174.20" y1="693.00" x2="178.00" y2="693.00" stroke="#000" stroke-width="0.9"/>
<text x="172.10" y="694.91" font-size="5.3" text-anchor="end">0</text>
<line x1="174.20" y1="681.25" x2="178.00" y2="681.25" stroke="#000" stroke-width="0.9"/>
<text x="172.10" y="683.16" font-size="5.3" text-anchor="end">20</text>
<line x1="174.20" y1="669.50" x2="178.00" y2="669.50" stroke="#000" stroke-width="0.9"/>
<text x="172.10" y="671.41" font-size="5.3" text-anchor="end">40</text>
<line x1="174.20" y1="657.75" x2="178.00" y2="657.75" stroke="#000" stroke-width="0.9"/>
<text x="172.10" y="659.66" font-size="5.3" text-anchor="end">60</text>
<line x1="174.20" y1="646.00" x2="178.00" y2="646.00" stroke="#000" stroke-width="0.9"/>
<text x="172.10" y="647.91" font-size="5.3" text-anchor="end">80</text>
<line x1="174.20" y1="634.25" x2="178.00" y2="634.25" stroke="#000" stroke-width="0.9"/>
<text x="172.10" y="636.16" font-size="5.3" text-anchor="end">100</text>
<text x="194.30" y="617.47" font-size="7.7" text-anchor="middle">AMC</text>
<text x="194.30" y="627.07" font-size="7.7" text-anchor="middle">6615</text>
<text x="157.40" y="662.50" font-size="6.4" text-anchor="middle" transform="rotate(-90 157.40 662.50)" textLength="48" lengthAdjust="spacingAndGlyphs" style="stroke-width:0.22px">% specific cell death</text>
<rect x="246.20" y="671.26" width="7.30" height="21.74" fill="#c00a2e"/>
<line x1="249.85" y1="671.26" x2="249.85" y2="670.67" stroke="#000" stroke-width="0.7"/>
<line x1="248.20" y1="670.67" x2="251.50" y2="670.67" stroke="#000" stroke-width="0.8"/>
<rect x="257.50" y="654.81" width="7.30" height="38.19" fill="#6cb33f"/>
<line x1="261.15" y1="654.81" x2="261.15" y2="654.46" stroke="#000" stroke-width="0.7"/>
<line x1="259.50" y1="654.46" x2="262.80" y2="654.46" stroke="#000" stroke-width="0.8"/>
<rect x="268.80" y="637.19" width="7.30" height="55.81" fill="#27478b"/>
<line x1="272.45" y1="637.19" x2="272.45" y2="636.72" stroke="#000" stroke-width="0.7"/>
<line x1="270.80" y1="636.72" x2="274.10" y2="636.72" stroke="#000" stroke-width="0.8"/>
<line x1="244.80" y1="631.50" x2="244.80" y2="693.40" stroke="#000" stroke-width="1.3"/>
<line x1="244.15" y1="692.75" x2="278.80" y2="692.75" stroke="#000" stroke-width="1.3"/>
<line x1="241.00" y1="693.00" x2="244.80" y2="693.00" stroke="#000" stroke-width="0.9"/>
<text x="238.90" y="694.91" font-size="5.3" text-anchor="end">0</text>
<line x1="241.00" y1="681.25" x2="244.80" y2="681.25" stroke="#000" stroke-width="0.9"/>
<text x="238.90" y="683.16" font-size="5.3" text-anchor="end">20</text>
<line x1="241.00" y1="669.50" x2="244.80" y2="669.50" stroke="#000" stroke-width="0.9"/>
<text x="238.90" y="671.41" font-size="5.3" text-anchor="end">40</text>
<line x1="241.00" y1="657.75" x2="244.80" y2="657.75" stroke="#000" stroke-width="0.9"/>
<text x="238.90" y="659.66" font-size="5.3" text-anchor="end">60</text>
<line x1="241.00" y1="646.00" x2="244.80" y2="646.00" stroke="#000" stroke-width="0.9"/>
<text x="238.90" y="647.91" font-size="5.3" text-anchor="end">80</text>
<line x1="241.00" y1="634.25" x2="244.80" y2="634.25" stroke="#000" stroke-width="0.9"/>
<text x="238.90" y="636.16" font-size="5.3" text-anchor="end">100</text>
<text x="261.30" y="617.47" font-size="7.7" text-anchor="middle">AMC</text>
<text x="261.30" y="627.07" font-size="7.7" text-anchor="middle">0713</text>
<text x="224.20" y="662.50" font-size="6.4" text-anchor="middle" transform="rotate(-90 224.20 662.50)" textLength="48" lengthAdjust="spacingAndGlyphs" style="stroke-width:0.22px">% specific cell death</text>
<rect x="281.50" y="632.25" width="6.50" height="2.50" fill="#c00a2e"/>
<text x="290.90" y="635.08" font-size="4.4">MK2206</text>
<rect x="281.50" y="640.05" width="6.50" height="2.50" fill="#6cb33f"/>
<text x="290.90" y="642.88" font-size="4.4">MCL1 inh.</text>
<rect x="281.50" y="647.95" width="6.50" height="2.50" fill="#27478b"/>
<text x="290.90" y="650.78" font-size="4.4">MK + MCL1 inh.</text>
<rect x="361.30" y="642.20" width="38.20" height="8.00" fill="#cb4321"/>
<rect x="361.30" y="650.20" width="38.20" height="7.80" fill="#b8672c"/>
<rect x="361.30" y="658.00" width="38.20" height="7.70" fill="#b8672c"/>
<rect x="361.30" y="665.70" width="38.20" height="7.40" fill="#bf5e2a"/>
<line x1="329.50" y1="633.90" x2="399.50" y2="633.90" stroke="#000" stroke-width="0.7"/>
<line x1="329.50" y1="642.20" x2="399.50" y2="642.20" stroke="#000" stroke-width="0.7"/>
<line x1="329.50" y1="650.20" x2="399.50" y2="650.20" stroke="#000" stroke-width="0.7"/>
<line x1="329.50" y1="658.00" x2="399.50" y2="658.00" stroke="#000" stroke-width="0.7"/>
<line x1="329.50" y1="665.70" x2="399.50" y2="665.70" stroke="#000" stroke-width="0.7"/>
<line x1="329.50" y1="673.10" x2="399.50" y2="673.10" stroke="#000" stroke-width="0.7"/>
<line x1="329.50" y1="633.55" x2="329.50" y2="673.45" stroke="#000" stroke-width="0.7"/>
<line x1="361.30" y1="633.55" x2="361.30" y2="673.45" stroke="#000" stroke-width="0.7"/>
<line x1="399.50" y1="633.55" x2="399.50" y2="673.45" stroke="#000" stroke-width="0.7"/>
<text x="380.40" y="640.17" font-size="5.2" text-anchor="middle">Δ Bliss score</text>
<text x="331.80" y="648.34" font-size="5.4">AMC_4389</text>
<text x="397.60" y="648.34" font-size="5.4" text-anchor="end">0,453</text>
<text x="331.80" y="656.24" font-size="5.4">AMC_1345</text>
<text x="397.60" y="656.24" font-size="5.4" text-anchor="end">0,016</text>
<text x="331.80" y="663.99" font-size="5.4">AMC_6615</text>
<text x="397.60" y="663.99" font-size="5.4" text-anchor="end">0,024</text>
<text x="331.80" y="671.54" font-size="5.4">AMC_0713</text>
<text x="397.60" y="671.54" font-size="5.4" text-anchor="end">0,170</text>
<rect x="335" y="678.3" width="60.5" height="5.4" fill="url(#gr)"/>
<text x="328.00" y="682.55" font-size="4.3">-1</text>
<text x="399.20" y="682.55" font-size="4.3">1</text>
</g>
<rect x="0.6" y="0.6" width="518.8" height="700.8" fill="none" stroke="#000" stroke-width="1.2"/>
</svg>
</body></html>
